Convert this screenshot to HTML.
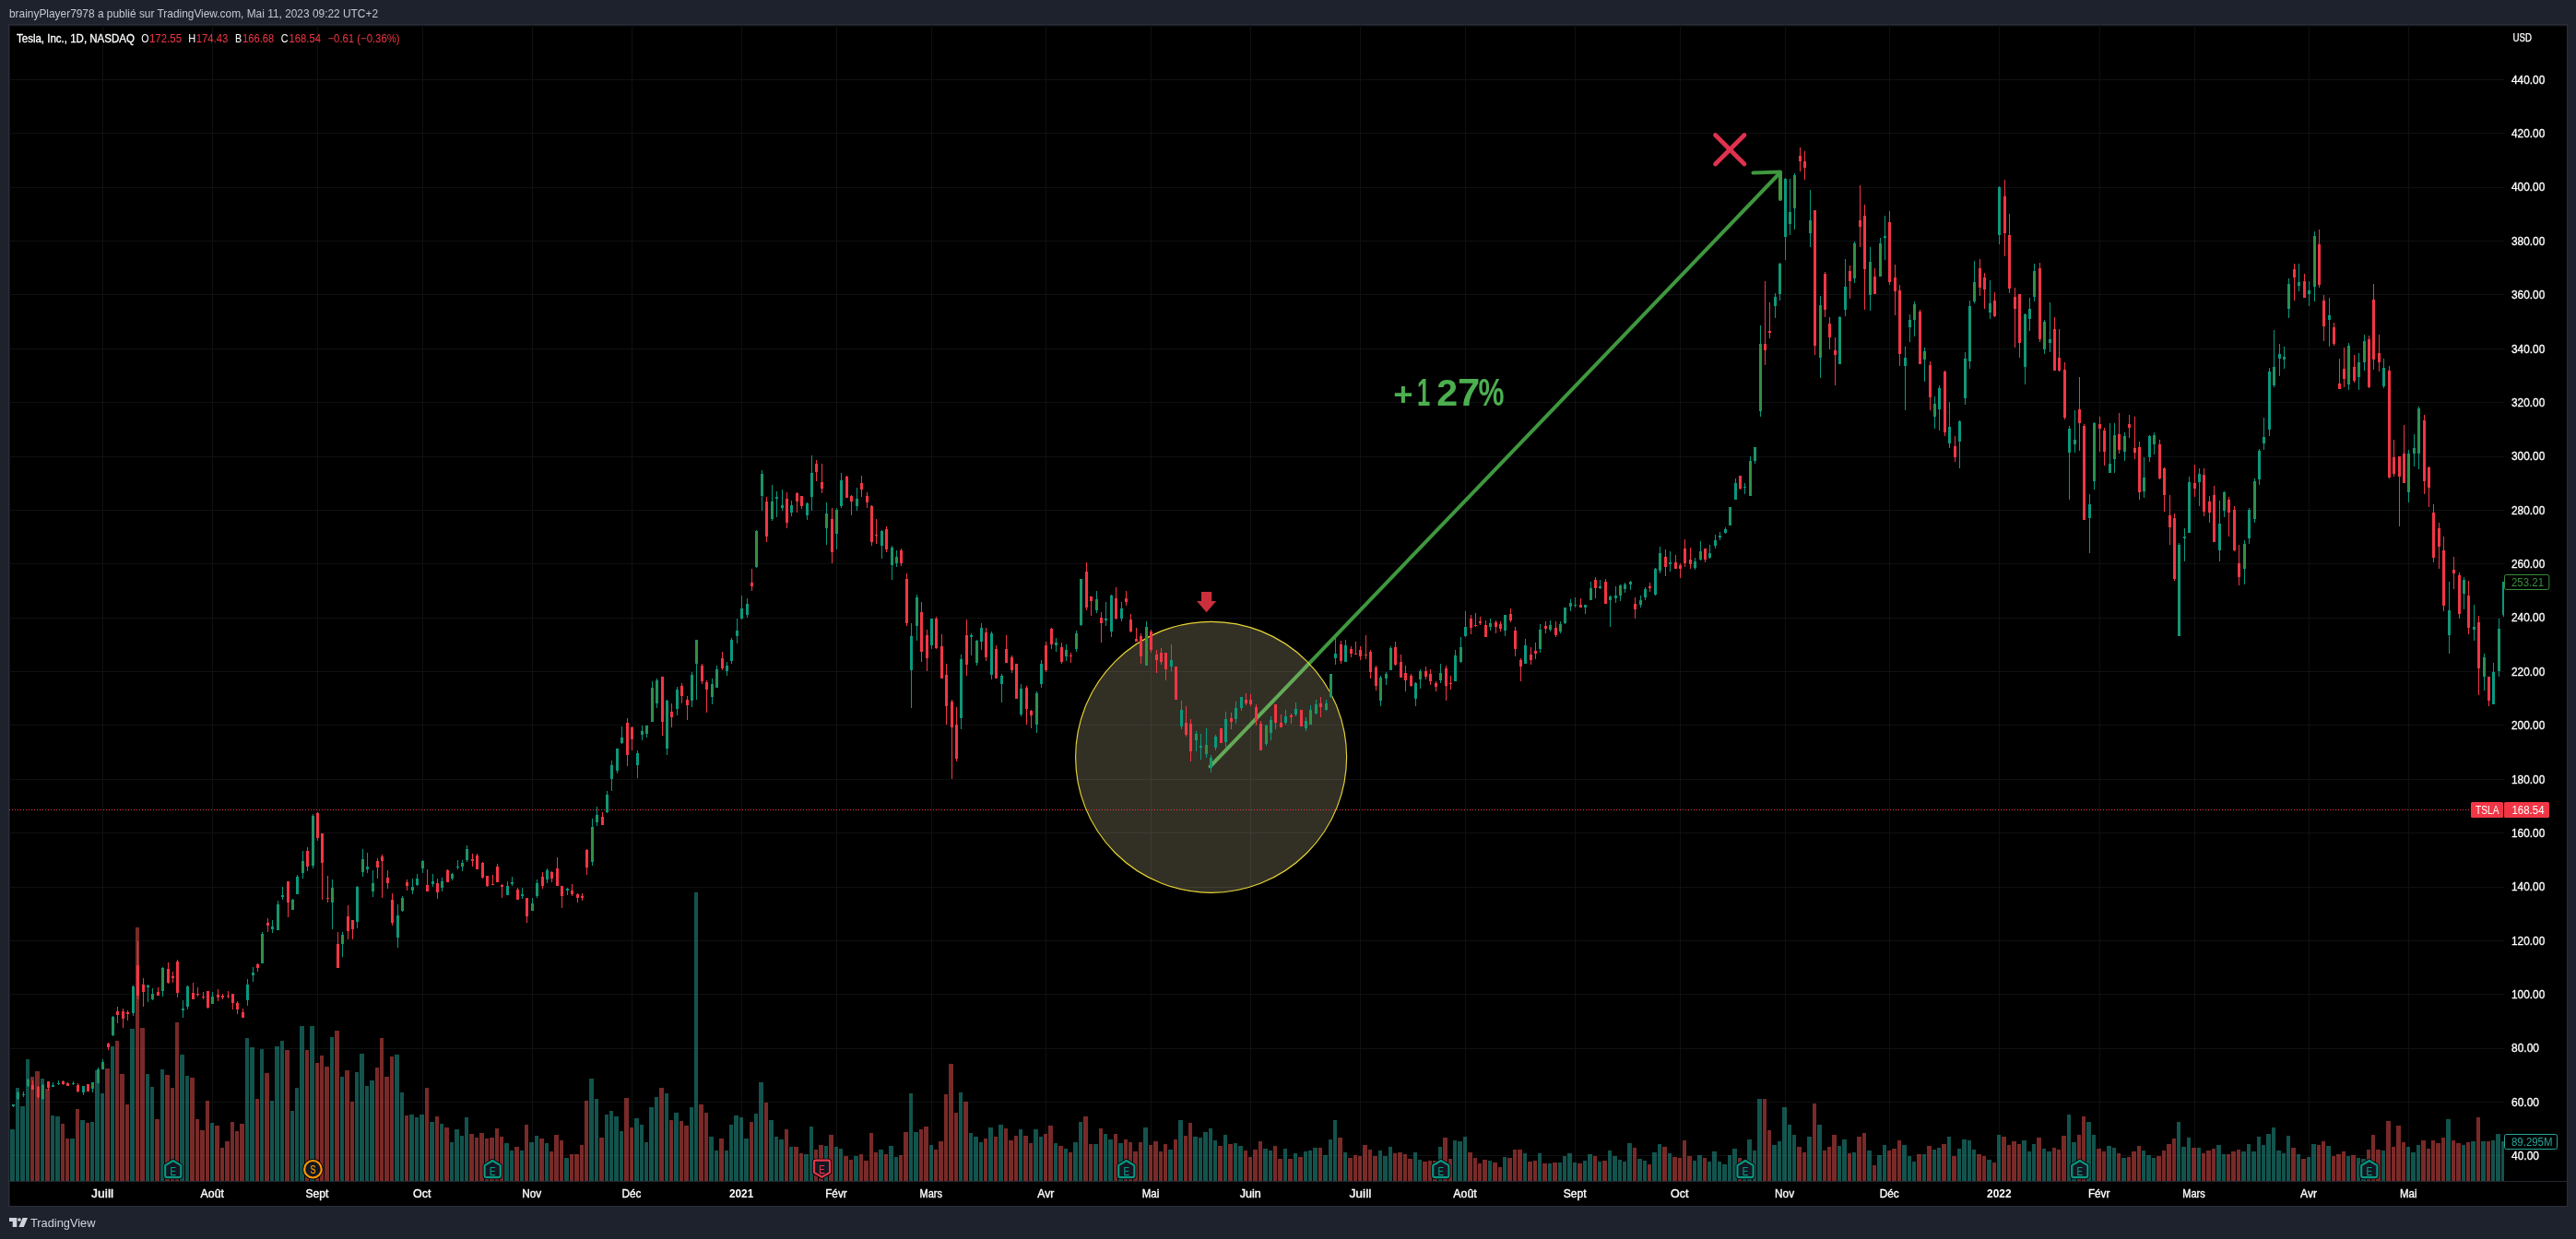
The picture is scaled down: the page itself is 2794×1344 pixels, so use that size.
<!DOCTYPE html>
<html><head><meta charset="utf-8"><title>TSLA</title><style>html,body{margin:0;padding:0;background:#1e222d;width:2794px;height:1344px;overflow:hidden}svg{display:block;position:absolute;left:0;top:0;will-change:transform;transform:translateZ(0)}text{font-family:"Liberation Sans",sans-serif}</style></head><body>
<svg width="2794" height="1344" viewBox="0 0 2794 1344">
<rect x="0" y="0" width="2794" height="1344" fill="#1e222d"/>
<rect x="9" y="26" width="2776" height="1283" fill="#2a2e39"/>
<rect x="10" y="27" width="2774" height="1281" fill="#000"/>
<rect x="10" y="27" width="2774" height="1" fill="#1b1d24"/>
<rect x="10" y="28" width="2774" height="1" fill="#08090b"/>
<rect x="10" y="27" width="1" height="1281" fill="#16181e"/>
<g shape-rendering="crispEdges" fill="#0f1012">
<rect x="10" y="86" width="2706" height="1"/>
<rect x="10" y="144" width="2706" height="1"/>
<rect x="10" y="203" width="2706" height="1"/>
<rect x="10" y="261" width="2706" height="1"/>
<rect x="10" y="319" width="2706" height="1"/>
<rect x="10" y="378" width="2706" height="1"/>
<rect x="10" y="436" width="2706" height="1"/>
<rect x="10" y="495" width="2706" height="1"/>
<rect x="10" y="553" width="2706" height="1"/>
<rect x="10" y="611" width="2706" height="1"/>
<rect x="10" y="670" width="2706" height="1"/>
<rect x="10" y="728" width="2706" height="1"/>
<rect x="10" y="786" width="2706" height="1"/>
<rect x="10" y="845" width="2706" height="1"/>
<rect x="10" y="903" width="2706" height="1"/>
<rect x="10" y="962" width="2706" height="1"/>
<rect x="10" y="1020" width="2706" height="1"/>
<rect x="10" y="1078" width="2706" height="1"/>
<rect x="10" y="1137" width="2706" height="1"/>
<rect x="10" y="1195" width="2706" height="1"/>
<rect x="10" y="1253" width="2706" height="1"/>
<rect x="111" y="27" width="1" height="1254"/>
<rect x="230" y="27" width="1" height="1254"/>
<rect x="344" y="27" width="1" height="1254"/>
<rect x="458" y="27" width="1" height="1254"/>
<rect x="577" y="27" width="1" height="1254"/>
<rect x="685" y="27" width="1" height="1254"/>
<rect x="804" y="27" width="1" height="1254"/>
<rect x="907" y="27" width="1" height="1254"/>
<rect x="1010" y="27" width="1" height="1254"/>
<rect x="1134" y="27" width="1" height="1254"/>
<rect x="1248" y="27" width="1" height="1254"/>
<rect x="1356" y="27" width="1" height="1254"/>
<rect x="1475" y="27" width="1" height="1254"/>
<rect x="1589" y="27" width="1" height="1254"/>
<rect x="1708" y="27" width="1" height="1254"/>
<rect x="1822" y="27" width="1" height="1254"/>
<rect x="1936" y="27" width="1" height="1254"/>
<rect x="2049" y="27" width="1" height="1254"/>
<rect x="2168" y="27" width="1" height="1254"/>
<rect x="2277" y="27" width="1" height="1254"/>
<rect x="2380" y="27" width="1" height="1254"/>
<rect x="2504" y="27" width="1" height="1254"/>
<rect x="2612" y="27" width="1" height="1254"/>
</g>
<g shape-rendering="crispEdges">
<rect x="11" y="1224.8" width="5" height="56.2" fill="rgba(38,166,154,0.5)"/>
<rect x="17" y="1180.1" width="4" height="100.9" fill="rgba(38,166,154,0.5)"/>
<rect x="22" y="1199.9" width="5" height="81.1" fill="rgba(38,166,154,0.5)"/>
<rect x="28" y="1149.0" width="4" height="132.0" fill="rgba(38,166,154,0.5)"/>
<rect x="33" y="1168.1" width="4" height="112.9" fill="rgba(239,83,80,0.5)"/>
<rect x="38" y="1161.9" width="5" height="119.1" fill="rgba(239,83,80,0.5)"/>
<rect x="44" y="1170.0" width="4" height="111.0" fill="rgba(38,166,154,0.5)"/>
<rect x="49" y="1181.1" width="5" height="99.9" fill="rgba(239,83,80,0.5)"/>
<rect x="55" y="1209.9" width="4" height="71.1" fill="rgba(38,166,154,0.5)"/>
<rect x="60" y="1210.8" width="5" height="70.2" fill="rgba(38,166,154,0.5)"/>
<rect x="66" y="1218.9" width="4" height="62.1" fill="rgba(239,83,80,0.5)"/>
<rect x="71" y="1234.9" width="4" height="46.1" fill="rgba(239,83,80,0.5)"/>
<rect x="76" y="1234.9" width="5" height="46.1" fill="rgba(38,166,154,0.5)"/>
<rect x="82" y="1202.9" width="4" height="78.1" fill="rgba(239,83,80,0.5)"/>
<rect x="87" y="1215.0" width="5" height="66.0" fill="rgba(38,166,154,0.5)"/>
<rect x="93" y="1218.1" width="4" height="62.9" fill="rgba(239,83,80,0.5)"/>
<rect x="98" y="1216.9" width="4" height="64.1" fill="rgba(38,166,154,0.5)"/>
<rect x="103" y="1161.1" width="5" height="119.9" fill="rgba(38,166,154,0.5)"/>
<rect x="109" y="1186.0" width="4" height="95.0" fill="rgba(38,166,154,0.5)"/>
<rect x="114" y="1159.1" width="5" height="121.9" fill="rgba(239,83,80,0.5)"/>
<rect x="120" y="1135.0" width="4" height="146.0" fill="rgba(38,166,154,0.5)"/>
<rect x="125" y="1129.1" width="4" height="151.9" fill="rgba(239,83,80,0.5)"/>
<rect x="130" y="1165.0" width="5" height="116.0" fill="rgba(239,83,80,0.5)"/>
<rect x="136" y="1197.9" width="4" height="83.1" fill="rgba(239,83,80,0.5)"/>
<rect x="141" y="1115.9" width="5" height="165.1" fill="rgba(38,166,154,0.5)"/>
<rect x="147" y="1006.1" width="4" height="274.9" fill="rgba(239,83,80,0.5)"/>
<rect x="152" y="1115.2" width="5" height="165.8" fill="rgba(239,83,80,0.5)"/>
<rect x="158" y="1165.0" width="4" height="116.0" fill="rgba(38,166,154,0.5)"/>
<rect x="163" y="1179.0" width="4" height="102.0" fill="rgba(38,166,154,0.5)"/>
<rect x="168" y="1213.9" width="5" height="67.1" fill="rgba(239,83,80,0.5)"/>
<rect x="174" y="1159.9" width="4" height="121.1" fill="rgba(38,166,154,0.5)"/>
<rect x="179" y="1166.1" width="5" height="114.9" fill="rgba(239,83,80,0.5)"/>
<rect x="185" y="1179.8" width="4" height="101.2" fill="rgba(239,83,80,0.5)"/>
<rect x="190" y="1108.9" width="4" height="172.1" fill="rgba(239,83,80,0.5)"/>
<rect x="195" y="1144.0" width="5" height="137.0" fill="rgba(38,166,154,0.5)"/>
<rect x="201" y="1166.9" width="4" height="114.1" fill="rgba(38,166,154,0.5)"/>
<rect x="206" y="1168.9" width="5" height="112.1" fill="rgba(239,83,80,0.5)"/>
<rect x="212" y="1213.9" width="4" height="67.1" fill="rgba(239,83,80,0.5)"/>
<rect x="217" y="1225.9" width="5" height="55.1" fill="rgba(239,83,80,0.5)"/>
<rect x="223" y="1194.0" width="4" height="87.0" fill="rgba(239,83,80,0.5)"/>
<rect x="228" y="1217.8" width="4" height="63.2" fill="rgba(38,166,154,0.5)"/>
<rect x="233" y="1220.9" width="5" height="60.1" fill="rgba(239,83,80,0.5)"/>
<rect x="239" y="1244.8" width="4" height="36.2" fill="rgba(239,83,80,0.5)"/>
<rect x="244" y="1237.8" width="5" height="43.2" fill="rgba(239,83,80,0.5)"/>
<rect x="250" y="1216.9" width="4" height="64.1" fill="rgba(239,83,80,0.5)"/>
<rect x="255" y="1227.0" width="4" height="54.0" fill="rgba(239,83,80,0.5)"/>
<rect x="260" y="1218.9" width="5" height="62.1" fill="rgba(239,83,80,0.5)"/>
<rect x="266" y="1126.0" width="4" height="155.0" fill="rgba(38,166,154,0.5)"/>
<rect x="271" y="1136.0" width="5" height="145.0" fill="rgba(38,166,154,0.5)"/>
<rect x="277" y="1192.0" width="4" height="89.0" fill="rgba(239,83,80,0.5)"/>
<rect x="282" y="1137.8" width="4" height="143.2" fill="rgba(38,166,154,0.5)"/>
<rect x="287" y="1164.1" width="5" height="116.9" fill="rgba(239,83,80,0.5)"/>
<rect x="293" y="1194.0" width="4" height="87.0" fill="rgba(38,166,154,0.5)"/>
<rect x="298" y="1135.0" width="5" height="146.0" fill="rgba(38,166,154,0.5)"/>
<rect x="304" y="1129.1" width="4" height="151.9" fill="rgba(38,166,154,0.5)"/>
<rect x="309" y="1138.9" width="5" height="142.1" fill="rgba(239,83,80,0.5)"/>
<rect x="315" y="1204.9" width="4" height="76.1" fill="rgba(38,166,154,0.5)"/>
<rect x="320" y="1180.1" width="4" height="100.9" fill="rgba(38,166,154,0.5)"/>
<rect x="325" y="1113.0" width="5" height="168.0" fill="rgba(38,166,154,0.5)"/>
<rect x="331" y="1138.9" width="4" height="142.1" fill="rgba(239,83,80,0.5)"/>
<rect x="336" y="1113.0" width="5" height="168.0" fill="rgba(38,166,154,0.5)"/>
<rect x="342" y="1152.9" width="4" height="128.1" fill="rgba(239,83,80,0.5)"/>
<rect x="347" y="1144.8" width="4" height="136.2" fill="rgba(239,83,80,0.5)"/>
<rect x="352" y="1157.1" width="5" height="123.9" fill="rgba(239,83,80,0.5)"/>
<rect x="358" y="1124.9" width="4" height="156.1" fill="rgba(38,166,154,0.5)"/>
<rect x="363" y="1118.0" width="5" height="163.0" fill="rgba(239,83,80,0.5)"/>
<rect x="369" y="1168.1" width="4" height="112.9" fill="rgba(38,166,154,0.5)"/>
<rect x="374" y="1161.1" width="5" height="119.9" fill="rgba(239,83,80,0.5)"/>
<rect x="380" y="1195.0" width="4" height="86.0" fill="rgba(239,83,80,0.5)"/>
<rect x="385" y="1163.0" width="4" height="118.0" fill="rgba(38,166,154,0.5)"/>
<rect x="390" y="1143.0" width="5" height="138.0" fill="rgba(38,166,154,0.5)"/>
<rect x="396" y="1178.0" width="4" height="103.0" fill="rgba(38,166,154,0.5)"/>
<rect x="401" y="1172.0" width="5" height="109.0" fill="rgba(38,166,154,0.5)"/>
<rect x="407" y="1158.0" width="4" height="123.0" fill="rgba(239,83,80,0.5)"/>
<rect x="412" y="1126.0" width="4" height="155.0" fill="rgba(239,83,80,0.5)"/>
<rect x="417" y="1168.1" width="5" height="112.9" fill="rgba(239,83,80,0.5)"/>
<rect x="423" y="1145.9" width="4" height="135.1" fill="rgba(239,83,80,0.5)"/>
<rect x="428" y="1144.0" width="5" height="137.0" fill="rgba(38,166,154,0.5)"/>
<rect x="434" y="1185.0" width="4" height="96.0" fill="rgba(38,166,154,0.5)"/>
<rect x="439" y="1209.9" width="4" height="71.1" fill="rgba(239,83,80,0.5)"/>
<rect x="444" y="1208.9" width="5" height="72.1" fill="rgba(38,166,154,0.5)"/>
<rect x="450" y="1211.9" width="4" height="69.1" fill="rgba(38,166,154,0.5)"/>
<rect x="455" y="1208.9" width="5" height="72.1" fill="rgba(38,166,154,0.5)"/>
<rect x="461" y="1180.1" width="4" height="100.9" fill="rgba(239,83,80,0.5)"/>
<rect x="466" y="1216.9" width="5" height="64.1" fill="rgba(38,166,154,0.5)"/>
<rect x="472" y="1211.0" width="4" height="70.0" fill="rgba(239,83,80,0.5)"/>
<rect x="477" y="1218.9" width="4" height="62.1" fill="rgba(38,166,154,0.5)"/>
<rect x="482" y="1222.9" width="5" height="58.1" fill="rgba(239,83,80,0.5)"/>
<rect x="488" y="1239.1" width="4" height="41.9" fill="rgba(38,166,154,0.5)"/>
<rect x="493" y="1224.9" width="5" height="56.1" fill="rgba(38,166,154,0.5)"/>
<rect x="499" y="1231.8" width="4" height="49.2" fill="rgba(38,166,154,0.5)"/>
<rect x="504" y="1211.9" width="4" height="69.1" fill="rgba(38,166,154,0.5)"/>
<rect x="509" y="1229.9" width="5" height="51.1" fill="rgba(239,83,80,0.5)"/>
<rect x="515" y="1233.9" width="4" height="47.1" fill="rgba(239,83,80,0.5)"/>
<rect x="520" y="1229.0" width="5" height="52.0" fill="rgba(239,83,80,0.5)"/>
<rect x="526" y="1234.9" width="4" height="46.1" fill="rgba(239,83,80,0.5)"/>
<rect x="531" y="1233.9" width="5" height="47.1" fill="rgba(239,83,80,0.5)"/>
<rect x="537" y="1223.9" width="4" height="57.1" fill="rgba(239,83,80,0.5)"/>
<rect x="542" y="1232.9" width="4" height="48.1" fill="rgba(239,83,80,0.5)"/>
<rect x="547" y="1239.8" width="5" height="41.2" fill="rgba(38,166,154,0.5)"/>
<rect x="553" y="1247.9" width="4" height="33.1" fill="rgba(38,166,154,0.5)"/>
<rect x="558" y="1243.9" width="5" height="37.1" fill="rgba(239,83,80,0.5)"/>
<rect x="564" y="1247.9" width="4" height="33.1" fill="rgba(38,166,154,0.5)"/>
<rect x="569" y="1220.0" width="4" height="61.0" fill="rgba(239,83,80,0.5)"/>
<rect x="574" y="1238.9" width="5" height="42.1" fill="rgba(38,166,154,0.5)"/>
<rect x="580" y="1231.8" width="4" height="49.2" fill="rgba(38,166,154,0.5)"/>
<rect x="585" y="1234.9" width="5" height="46.1" fill="rgba(239,83,80,0.5)"/>
<rect x="591" y="1239.8" width="4" height="41.2" fill="rgba(38,166,154,0.5)"/>
<rect x="596" y="1248.9" width="4" height="32.1" fill="rgba(239,83,80,0.5)"/>
<rect x="601" y="1230.8" width="5" height="50.2" fill="rgba(239,83,80,0.5)"/>
<rect x="607" y="1236.9" width="4" height="44.1" fill="rgba(239,83,80,0.5)"/>
<rect x="612" y="1255.8" width="5" height="25.2" fill="rgba(38,166,154,0.5)"/>
<rect x="618" y="1252.0" width="4" height="29.0" fill="rgba(239,83,80,0.5)"/>
<rect x="623" y="1252.0" width="5" height="29.0" fill="rgba(239,83,80,0.5)"/>
<rect x="629" y="1241.9" width="4" height="39.1" fill="rgba(239,83,80,0.5)"/>
<rect x="634" y="1194.0" width="4" height="87.0" fill="rgba(239,83,80,0.5)"/>
<rect x="639" y="1170.0" width="5" height="111.0" fill="rgba(38,166,154,0.5)"/>
<rect x="645" y="1192.0" width="4" height="89.0" fill="rgba(38,166,154,0.5)"/>
<rect x="650" y="1233.9" width="5" height="47.1" fill="rgba(239,83,80,0.5)"/>
<rect x="656" y="1208.9" width="4" height="72.1" fill="rgba(38,166,154,0.5)"/>
<rect x="661" y="1204.9" width="4" height="76.1" fill="rgba(38,166,154,0.5)"/>
<rect x="666" y="1211.0" width="5" height="70.0" fill="rgba(38,166,154,0.5)"/>
<rect x="672" y="1227.0" width="4" height="54.0" fill="rgba(38,166,154,0.5)"/>
<rect x="677" y="1190.9" width="5" height="90.1" fill="rgba(239,83,80,0.5)"/>
<rect x="683" y="1222.9" width="4" height="58.1" fill="rgba(239,83,80,0.5)"/>
<rect x="688" y="1213.0" width="5" height="68.0" fill="rgba(38,166,154,0.5)"/>
<rect x="694" y="1220.0" width="4" height="61.0" fill="rgba(38,166,154,0.5)"/>
<rect x="699" y="1238.9" width="4" height="42.1" fill="rgba(38,166,154,0.5)"/>
<rect x="704" y="1201.0" width="5" height="80.0" fill="rgba(38,166,154,0.5)"/>
<rect x="710" y="1190.0" width="4" height="91.0" fill="rgba(38,166,154,0.5)"/>
<rect x="715" y="1180.1" width="5" height="100.9" fill="rgba(239,83,80,0.5)"/>
<rect x="721" y="1186.0" width="4" height="95.0" fill="rgba(38,166,154,0.5)"/>
<rect x="726" y="1215.0" width="4" height="66.0" fill="rgba(239,83,80,0.5)"/>
<rect x="731" y="1206.9" width="5" height="74.1" fill="rgba(38,166,154,0.5)"/>
<rect x="737" y="1215.9" width="4" height="65.1" fill="rgba(239,83,80,0.5)"/>
<rect x="742" y="1220.9" width="5" height="60.1" fill="rgba(239,83,80,0.5)"/>
<rect x="748" y="1201.0" width="4" height="80.0" fill="rgba(38,166,154,0.5)"/>
<rect x="753" y="968.1" width="4" height="312.9" fill="rgba(38,166,154,0.5)"/>
<rect x="758" y="1197.9" width="5" height="83.1" fill="rgba(239,83,80,0.5)"/>
<rect x="764" y="1206.9" width="4" height="74.1" fill="rgba(239,83,80,0.5)"/>
<rect x="769" y="1232.9" width="5" height="48.1" fill="rgba(38,166,154,0.5)"/>
<rect x="775" y="1247.9" width="4" height="33.1" fill="rgba(38,166,154,0.5)"/>
<rect x="780" y="1234.9" width="5" height="46.1" fill="rgba(239,83,80,0.5)"/>
<rect x="786" y="1247.9" width="4" height="33.1" fill="rgba(38,166,154,0.5)"/>
<rect x="791" y="1220.0" width="4" height="61.0" fill="rgba(38,166,154,0.5)"/>
<rect x="796" y="1209.9" width="5" height="71.1" fill="rgba(38,166,154,0.5)"/>
<rect x="802" y="1211.9" width="4" height="69.1" fill="rgba(38,166,154,0.5)"/>
<rect x="807" y="1234.9" width="5" height="46.1" fill="rgba(38,166,154,0.5)"/>
<rect x="813" y="1216.9" width="4" height="64.1" fill="rgba(239,83,80,0.5)"/>
<rect x="818" y="1208.0" width="4" height="73.0" fill="rgba(38,166,154,0.5)"/>
<rect x="823" y="1174.0" width="5" height="107.0" fill="rgba(38,166,154,0.5)"/>
<rect x="829" y="1196.1" width="4" height="84.9" fill="rgba(239,83,80,0.5)"/>
<rect x="834" y="1215.0" width="5" height="66.0" fill="rgba(38,166,154,0.5)"/>
<rect x="840" y="1232.9" width="4" height="48.1" fill="rgba(38,166,154,0.5)"/>
<rect x="845" y="1236.0" width="5" height="45.0" fill="rgba(38,166,154,0.5)"/>
<rect x="851" y="1224.9" width="4" height="56.1" fill="rgba(239,83,80,0.5)"/>
<rect x="856" y="1243.9" width="4" height="37.1" fill="rgba(38,166,154,0.5)"/>
<rect x="861" y="1243.9" width="5" height="37.1" fill="rgba(239,83,80,0.5)"/>
<rect x="867" y="1250.9" width="4" height="30.1" fill="rgba(239,83,80,0.5)"/>
<rect x="872" y="1252.0" width="5" height="29.0" fill="rgba(38,166,154,0.5)"/>
<rect x="878" y="1222.0" width="4" height="59.0" fill="rgba(38,166,154,0.5)"/>
<rect x="883" y="1246.8" width="4" height="34.2" fill="rgba(239,83,80,0.5)"/>
<rect x="888" y="1241.9" width="5" height="39.1" fill="rgba(239,83,80,0.5)"/>
<rect x="894" y="1243.0" width="4" height="38.0" fill="rgba(38,166,154,0.5)"/>
<rect x="899" y="1230.8" width="5" height="50.2" fill="rgba(239,83,80,0.5)"/>
<rect x="905" y="1243.9" width="4" height="37.1" fill="rgba(38,166,154,0.5)"/>
<rect x="910" y="1245.9" width="4" height="35.1" fill="rgba(38,166,154,0.5)"/>
<rect x="915" y="1253.8" width="5" height="27.2" fill="rgba(239,83,80,0.5)"/>
<rect x="921" y="1257.9" width="4" height="23.1" fill="rgba(239,83,80,0.5)"/>
<rect x="926" y="1253.8" width="5" height="27.2" fill="rgba(38,166,154,0.5)"/>
<rect x="932" y="1252.0" width="4" height="29.0" fill="rgba(239,83,80,0.5)"/>
<rect x="937" y="1258.9" width="5" height="22.1" fill="rgba(239,83,80,0.5)"/>
<rect x="943" y="1229.0" width="4" height="52.0" fill="rgba(239,83,80,0.5)"/>
<rect x="948" y="1249.9" width="4" height="31.1" fill="rgba(239,83,80,0.5)"/>
<rect x="953" y="1246.8" width="5" height="34.2" fill="rgba(38,166,154,0.5)"/>
<rect x="959" y="1252.0" width="4" height="29.0" fill="rgba(239,83,80,0.5)"/>
<rect x="964" y="1243.0" width="5" height="38.0" fill="rgba(38,166,154,0.5)"/>
<rect x="970" y="1254.9" width="4" height="26.1" fill="rgba(38,166,154,0.5)"/>
<rect x="975" y="1252.9" width="4" height="28.1" fill="rgba(239,83,80,0.5)"/>
<rect x="980" y="1227.9" width="5" height="53.1" fill="rgba(239,83,80,0.5)"/>
<rect x="986" y="1186.0" width="4" height="95.0" fill="rgba(38,166,154,0.5)"/>
<rect x="991" y="1227.9" width="5" height="53.1" fill="rgba(38,166,154,0.5)"/>
<rect x="997" y="1224.9" width="4" height="56.1" fill="rgba(239,83,80,0.5)"/>
<rect x="1002" y="1222.0" width="5" height="59.0" fill="rgba(239,83,80,0.5)"/>
<rect x="1008" y="1241.9" width="4" height="39.1" fill="rgba(38,166,154,0.5)"/>
<rect x="1013" y="1246.8" width="4" height="34.2" fill="rgba(239,83,80,0.5)"/>
<rect x="1018" y="1237.8" width="5" height="43.2" fill="rgba(239,83,80,0.5)"/>
<rect x="1024" y="1187.0" width="4" height="94.0" fill="rgba(239,83,80,0.5)"/>
<rect x="1029" y="1154.0" width="5" height="127.0" fill="rgba(239,83,80,0.5)"/>
<rect x="1035" y="1206.9" width="4" height="74.1" fill="rgba(239,83,80,0.5)"/>
<rect x="1040" y="1185.0" width="4" height="96.0" fill="rgba(38,166,154,0.5)"/>
<rect x="1045" y="1195.0" width="5" height="86.0" fill="rgba(239,83,80,0.5)"/>
<rect x="1051" y="1229.0" width="4" height="52.0" fill="rgba(38,166,154,0.5)"/>
<rect x="1056" y="1232.9" width="5" height="48.1" fill="rgba(38,166,154,0.5)"/>
<rect x="1062" y="1238.9" width="4" height="42.1" fill="rgba(38,166,154,0.5)"/>
<rect x="1067" y="1234.9" width="4" height="46.1" fill="rgba(239,83,80,0.5)"/>
<rect x="1072" y="1222.9" width="5" height="58.1" fill="rgba(38,166,154,0.5)"/>
<rect x="1078" y="1232.9" width="4" height="48.1" fill="rgba(239,83,80,0.5)"/>
<rect x="1083" y="1220.0" width="5" height="61.0" fill="rgba(38,166,154,0.5)"/>
<rect x="1089" y="1223.9" width="4" height="57.1" fill="rgba(239,83,80,0.5)"/>
<rect x="1094" y="1236.9" width="5" height="44.1" fill="rgba(239,83,80,0.5)"/>
<rect x="1100" y="1231.9" width="4" height="49.1" fill="rgba(239,83,80,0.5)"/>
<rect x="1105" y="1224.9" width="4" height="56.1" fill="rgba(38,166,154,0.5)"/>
<rect x="1110" y="1231.9" width="5" height="49.1" fill="rgba(239,83,80,0.5)"/>
<rect x="1116" y="1239.8" width="4" height="41.2" fill="rgba(239,83,80,0.5)"/>
<rect x="1121" y="1224.9" width="5" height="56.1" fill="rgba(38,166,154,0.5)"/>
<rect x="1127" y="1232.9" width="4" height="48.1" fill="rgba(38,166,154,0.5)"/>
<rect x="1132" y="1229.9" width="4" height="51.1" fill="rgba(239,83,80,0.5)"/>
<rect x="1137" y="1220.9" width="5" height="60.1" fill="rgba(239,83,80,0.5)"/>
<rect x="1143" y="1239.8" width="4" height="41.2" fill="rgba(38,166,154,0.5)"/>
<rect x="1148" y="1243.0" width="5" height="38.0" fill="rgba(239,83,80,0.5)"/>
<rect x="1154" y="1245.9" width="4" height="35.1" fill="rgba(38,166,154,0.5)"/>
<rect x="1159" y="1249.9" width="4" height="31.1" fill="rgba(239,83,80,0.5)"/>
<rect x="1164" y="1238.9" width="5" height="42.1" fill="rgba(38,166,154,0.5)"/>
<rect x="1170" y="1216.9" width="4" height="64.1" fill="rgba(38,166,154,0.5)"/>
<rect x="1175" y="1211.0" width="5" height="70.0" fill="rgba(239,83,80,0.5)"/>
<rect x="1181" y="1240.9" width="4" height="40.1" fill="rgba(239,83,80,0.5)"/>
<rect x="1186" y="1240.9" width="5" height="40.1" fill="rgba(38,166,154,0.5)"/>
<rect x="1192" y="1223.9" width="4" height="57.1" fill="rgba(239,83,80,0.5)"/>
<rect x="1197" y="1229.9" width="4" height="51.1" fill="rgba(38,166,154,0.5)"/>
<rect x="1202" y="1236.0" width="5" height="45.0" fill="rgba(38,166,154,0.5)"/>
<rect x="1208" y="1229.9" width="4" height="51.1" fill="rgba(239,83,80,0.5)"/>
<rect x="1213" y="1239.8" width="5" height="41.2" fill="rgba(38,166,154,0.5)"/>
<rect x="1219" y="1236.0" width="4" height="45.0" fill="rgba(239,83,80,0.5)"/>
<rect x="1224" y="1238.9" width="4" height="42.1" fill="rgba(239,83,80,0.5)"/>
<rect x="1229" y="1248.9" width="5" height="32.1" fill="rgba(239,83,80,0.5)"/>
<rect x="1235" y="1238.9" width="4" height="42.1" fill="rgba(239,83,80,0.5)"/>
<rect x="1240" y="1222.9" width="5" height="58.1" fill="rgba(38,166,154,0.5)"/>
<rect x="1246" y="1241.9" width="4" height="39.1" fill="rgba(239,83,80,0.5)"/>
<rect x="1251" y="1237.8" width="5" height="43.2" fill="rgba(239,83,80,0.5)"/>
<rect x="1257" y="1248.9" width="4" height="32.1" fill="rgba(239,83,80,0.5)"/>
<rect x="1262" y="1240.9" width="4" height="40.1" fill="rgba(239,83,80,0.5)"/>
<rect x="1267" y="1246.8" width="5" height="34.2" fill="rgba(38,166,154,0.5)"/>
<rect x="1273" y="1236.0" width="4" height="45.0" fill="rgba(239,83,80,0.5)"/>
<rect x="1278" y="1215.0" width="5" height="66.0" fill="rgba(38,166,154,0.5)"/>
<rect x="1284" y="1231.9" width="4" height="49.1" fill="rgba(239,83,80,0.5)"/>
<rect x="1289" y="1218.0" width="4" height="63.0" fill="rgba(239,83,80,0.5)"/>
<rect x="1294" y="1232.9" width="5" height="48.1" fill="rgba(38,166,154,0.5)"/>
<rect x="1300" y="1233.9" width="4" height="47.1" fill="rgba(38,166,154,0.5)"/>
<rect x="1305" y="1227.9" width="5" height="53.1" fill="rgba(38,166,154,0.5)"/>
<rect x="1311" y="1223.9" width="4" height="57.1" fill="rgba(38,166,154,0.5)"/>
<rect x="1316" y="1236.9" width="4" height="44.1" fill="rgba(38,166,154,0.5)"/>
<rect x="1321" y="1243.0" width="5" height="38.0" fill="rgba(239,83,80,0.5)"/>
<rect x="1327" y="1230.8" width="4" height="50.2" fill="rgba(38,166,154,0.5)"/>
<rect x="1332" y="1240.9" width="5" height="40.1" fill="rgba(239,83,80,0.5)"/>
<rect x="1338" y="1239.8" width="4" height="41.2" fill="rgba(38,166,154,0.5)"/>
<rect x="1343" y="1243.0" width="5" height="38.0" fill="rgba(38,166,154,0.5)"/>
<rect x="1349" y="1247.9" width="4" height="33.1" fill="rgba(239,83,80,0.5)"/>
<rect x="1354" y="1254.9" width="4" height="26.1" fill="rgba(239,83,80,0.5)"/>
<rect x="1359" y="1246.8" width="5" height="34.2" fill="rgba(239,83,80,0.5)"/>
<rect x="1365" y="1237.8" width="4" height="43.2" fill="rgba(239,83,80,0.5)"/>
<rect x="1370" y="1245.9" width="5" height="35.1" fill="rgba(38,166,154,0.5)"/>
<rect x="1376" y="1247.9" width="4" height="33.1" fill="rgba(38,166,154,0.5)"/>
<rect x="1381" y="1243.0" width="4" height="38.0" fill="rgba(239,83,80,0.5)"/>
<rect x="1386" y="1256.9" width="5" height="24.1" fill="rgba(239,83,80,0.5)"/>
<rect x="1392" y="1245.9" width="4" height="35.1" fill="rgba(38,166,154,0.5)"/>
<rect x="1397" y="1256.9" width="5" height="24.1" fill="rgba(239,83,80,0.5)"/>
<rect x="1403" y="1250.9" width="4" height="30.1" fill="rgba(38,166,154,0.5)"/>
<rect x="1408" y="1254.9" width="5" height="26.1" fill="rgba(239,83,80,0.5)"/>
<rect x="1414" y="1248.9" width="4" height="32.1" fill="rgba(38,166,154,0.5)"/>
<rect x="1419" y="1247.9" width="4" height="33.1" fill="rgba(38,166,154,0.5)"/>
<rect x="1424" y="1244.8" width="5" height="36.2" fill="rgba(38,166,154,0.5)"/>
<rect x="1430" y="1244.8" width="4" height="36.2" fill="rgba(239,83,80,0.5)"/>
<rect x="1435" y="1252.9" width="5" height="28.1" fill="rgba(38,166,154,0.5)"/>
<rect x="1441" y="1236.0" width="4" height="45.0" fill="rgba(38,166,154,0.5)"/>
<rect x="1446" y="1215.0" width="4" height="66.0" fill="rgba(38,166,154,0.5)"/>
<rect x="1451" y="1233.9" width="5" height="47.1" fill="rgba(239,83,80,0.5)"/>
<rect x="1457" y="1249.9" width="4" height="31.1" fill="rgba(38,166,154,0.5)"/>
<rect x="1462" y="1255.8" width="5" height="25.2" fill="rgba(239,83,80,0.5)"/>
<rect x="1468" y="1252.9" width="4" height="28.1" fill="rgba(239,83,80,0.5)"/>
<rect x="1473" y="1253.8" width="4" height="27.2" fill="rgba(239,83,80,0.5)"/>
<rect x="1478" y="1241.9" width="5" height="39.1" fill="rgba(239,83,80,0.5)"/>
<rect x="1484" y="1246.8" width="4" height="34.2" fill="rgba(239,83,80,0.5)"/>
<rect x="1489" y="1253.8" width="5" height="27.2" fill="rgba(239,83,80,0.5)"/>
<rect x="1495" y="1247.9" width="4" height="33.1" fill="rgba(38,166,154,0.5)"/>
<rect x="1500" y="1253.8" width="5" height="27.2" fill="rgba(38,166,154,0.5)"/>
<rect x="1506" y="1243.9" width="4" height="37.1" fill="rgba(38,166,154,0.5)"/>
<rect x="1511" y="1250.9" width="4" height="30.1" fill="rgba(239,83,80,0.5)"/>
<rect x="1516" y="1249.9" width="5" height="31.1" fill="rgba(239,83,80,0.5)"/>
<rect x="1522" y="1252.0" width="4" height="29.0" fill="rgba(239,83,80,0.5)"/>
<rect x="1527" y="1256.9" width="5" height="24.1" fill="rgba(239,83,80,0.5)"/>
<rect x="1533" y="1249.9" width="4" height="31.1" fill="rgba(38,166,154,0.5)"/>
<rect x="1538" y="1257.9" width="4" height="23.1" fill="rgba(38,166,154,0.5)"/>
<rect x="1543" y="1259.9" width="5" height="21.1" fill="rgba(239,83,80,0.5)"/>
<rect x="1549" y="1258.9" width="4" height="22.1" fill="rgba(239,83,80,0.5)"/>
<rect x="1554" y="1258.9" width="5" height="22.1" fill="rgba(239,83,80,0.5)"/>
<rect x="1560" y="1243.9" width="4" height="37.1" fill="rgba(38,166,154,0.5)"/>
<rect x="1565" y="1233.9" width="5" height="47.1" fill="rgba(239,83,80,0.5)"/>
<rect x="1571" y="1256.9" width="4" height="24.1" fill="rgba(239,83,80,0.5)"/>
<rect x="1576" y="1236.9" width="4" height="44.1" fill="rgba(38,166,154,0.5)"/>
<rect x="1581" y="1237.8" width="5" height="43.2" fill="rgba(38,166,154,0.5)"/>
<rect x="1587" y="1232.9" width="4" height="48.1" fill="rgba(38,166,154,0.5)"/>
<rect x="1592" y="1249.9" width="5" height="31.1" fill="rgba(239,83,80,0.5)"/>
<rect x="1598" y="1255.8" width="4" height="25.2" fill="rgba(239,83,80,0.5)"/>
<rect x="1603" y="1261.9" width="4" height="19.1" fill="rgba(239,83,80,0.5)"/>
<rect x="1608" y="1257.9" width="5" height="23.1" fill="rgba(239,83,80,0.5)"/>
<rect x="1614" y="1258.9" width="4" height="22.1" fill="rgba(38,166,154,0.5)"/>
<rect x="1619" y="1260.8" width="5" height="20.2" fill="rgba(239,83,80,0.5)"/>
<rect x="1625" y="1265.9" width="4" height="15.1" fill="rgba(239,83,80,0.5)"/>
<rect x="1630" y="1254.9" width="4" height="26.1" fill="rgba(38,166,154,0.5)"/>
<rect x="1635" y="1255.8" width="5" height="25.2" fill="rgba(239,83,80,0.5)"/>
<rect x="1641" y="1246.8" width="4" height="34.2" fill="rgba(239,83,80,0.5)"/>
<rect x="1646" y="1246.8" width="5" height="34.2" fill="rgba(239,83,80,0.5)"/>
<rect x="1652" y="1250.9" width="4" height="30.1" fill="rgba(38,166,154,0.5)"/>
<rect x="1657" y="1259.9" width="5" height="21.1" fill="rgba(239,83,80,0.5)"/>
<rect x="1663" y="1258.9" width="4" height="22.1" fill="rgba(239,83,80,0.5)"/>
<rect x="1668" y="1250.9" width="4" height="30.1" fill="rgba(38,166,154,0.5)"/>
<rect x="1673" y="1261.9" width="5" height="19.1" fill="rgba(239,83,80,0.5)"/>
<rect x="1679" y="1261.9" width="4" height="19.1" fill="rgba(38,166,154,0.5)"/>
<rect x="1684" y="1260.8" width="5" height="20.2" fill="rgba(239,83,80,0.5)"/>
<rect x="1690" y="1260.8" width="4" height="20.2" fill="rgba(38,166,154,0.5)"/>
<rect x="1695" y="1253.8" width="4" height="27.2" fill="rgba(38,166,154,0.5)"/>
<rect x="1700" y="1250.9" width="5" height="30.1" fill="rgba(38,166,154,0.5)"/>
<rect x="1706" y="1260.8" width="4" height="20.2" fill="rgba(38,166,154,0.5)"/>
<rect x="1711" y="1261.9" width="5" height="19.1" fill="rgba(239,83,80,0.5)"/>
<rect x="1717" y="1258.9" width="4" height="22.1" fill="rgba(38,166,154,0.5)"/>
<rect x="1722" y="1252.0" width="5" height="29.0" fill="rgba(38,166,154,0.5)"/>
<rect x="1728" y="1253.8" width="4" height="27.2" fill="rgba(239,83,80,0.5)"/>
<rect x="1733" y="1259.9" width="4" height="21.1" fill="rgba(38,166,154,0.5)"/>
<rect x="1738" y="1258.9" width="5" height="22.1" fill="rgba(239,83,80,0.5)"/>
<rect x="1744" y="1247.9" width="4" height="33.1" fill="rgba(38,166,154,0.5)"/>
<rect x="1749" y="1253.8" width="5" height="27.2" fill="rgba(38,166,154,0.5)"/>
<rect x="1755" y="1257.9" width="4" height="23.1" fill="rgba(38,166,154,0.5)"/>
<rect x="1760" y="1259.9" width="4" height="21.1" fill="rgba(38,166,154,0.5)"/>
<rect x="1765" y="1239.8" width="5" height="41.2" fill="rgba(38,166,154,0.5)"/>
<rect x="1771" y="1244.8" width="4" height="36.2" fill="rgba(239,83,80,0.5)"/>
<rect x="1776" y="1256.9" width="5" height="24.1" fill="rgba(38,166,154,0.5)"/>
<rect x="1782" y="1258.9" width="4" height="22.1" fill="rgba(38,166,154,0.5)"/>
<rect x="1787" y="1262.8" width="4" height="18.2" fill="rgba(239,83,80,0.5)"/>
<rect x="1792" y="1249.9" width="5" height="31.1" fill="rgba(38,166,154,0.5)"/>
<rect x="1798" y="1240.9" width="4" height="40.1" fill="rgba(38,166,154,0.5)"/>
<rect x="1803" y="1243.9" width="5" height="37.1" fill="rgba(239,83,80,0.5)"/>
<rect x="1809" y="1250.9" width="4" height="30.1" fill="rgba(38,166,154,0.5)"/>
<rect x="1814" y="1254.9" width="5" height="26.1" fill="rgba(239,83,80,0.5)"/>
<rect x="1820" y="1255.8" width="4" height="25.2" fill="rgba(239,83,80,0.5)"/>
<rect x="1825" y="1236.9" width="4" height="44.1" fill="rgba(239,83,80,0.5)"/>
<rect x="1830" y="1253.8" width="5" height="27.2" fill="rgba(239,83,80,0.5)"/>
<rect x="1836" y="1258.9" width="4" height="22.1" fill="rgba(38,166,154,0.5)"/>
<rect x="1841" y="1252.9" width="5" height="28.1" fill="rgba(38,166,154,0.5)"/>
<rect x="1847" y="1255.8" width="4" height="25.2" fill="rgba(239,83,80,0.5)"/>
<rect x="1852" y="1259.9" width="4" height="21.1" fill="rgba(38,166,154,0.5)"/>
<rect x="1857" y="1248.9" width="5" height="32.1" fill="rgba(38,166,154,0.5)"/>
<rect x="1863" y="1259.9" width="4" height="21.1" fill="rgba(38,166,154,0.5)"/>
<rect x="1868" y="1262.8" width="5" height="18.2" fill="rgba(38,166,154,0.5)"/>
<rect x="1874" y="1252.9" width="4" height="28.1" fill="rgba(38,166,154,0.5)"/>
<rect x="1879" y="1245.9" width="5" height="35.1" fill="rgba(38,166,154,0.5)"/>
<rect x="1885" y="1255.8" width="4" height="25.2" fill="rgba(239,83,80,0.5)"/>
<rect x="1890" y="1257.9" width="4" height="23.1" fill="rgba(38,166,154,0.5)"/>
<rect x="1895" y="1236.0" width="5" height="45.0" fill="rgba(38,166,154,0.5)"/>
<rect x="1901" y="1247.9" width="4" height="33.1" fill="rgba(38,166,154,0.5)"/>
<rect x="1906" y="1192.0" width="5" height="89.0" fill="rgba(38,166,154,0.5)"/>
<rect x="1912" y="1192.0" width="4" height="89.0" fill="rgba(239,83,80,0.5)"/>
<rect x="1917" y="1225.9" width="4" height="55.1" fill="rgba(239,83,80,0.5)"/>
<rect x="1922" y="1241.9" width="5" height="39.1" fill="rgba(38,166,154,0.5)"/>
<rect x="1928" y="1237.8" width="4" height="43.2" fill="rgba(38,166,154,0.5)"/>
<rect x="1933" y="1200.9" width="5" height="80.1" fill="rgba(38,166,154,0.5)"/>
<rect x="1939" y="1220.0" width="4" height="61.0" fill="rgba(38,166,154,0.5)"/>
<rect x="1944" y="1230.8" width="4" height="50.2" fill="rgba(38,166,154,0.5)"/>
<rect x="1949" y="1243.9" width="5" height="37.1" fill="rgba(239,83,80,0.5)"/>
<rect x="1955" y="1249.9" width="4" height="31.1" fill="rgba(239,83,80,0.5)"/>
<rect x="1960" y="1232.9" width="5" height="48.1" fill="rgba(38,166,154,0.5)"/>
<rect x="1966" y="1196.8" width="4" height="84.2" fill="rgba(239,83,80,0.5)"/>
<rect x="1971" y="1220.0" width="5" height="61.0" fill="rgba(38,166,154,0.5)"/>
<rect x="1977" y="1247.9" width="4" height="33.1" fill="rgba(239,83,80,0.5)"/>
<rect x="1982" y="1243.9" width="4" height="37.1" fill="rgba(239,83,80,0.5)"/>
<rect x="1987" y="1230.8" width="5" height="50.2" fill="rgba(239,83,80,0.5)"/>
<rect x="1993" y="1243.0" width="4" height="38.0" fill="rgba(38,166,154,0.5)"/>
<rect x="1998" y="1236.0" width="5" height="45.0" fill="rgba(38,166,154,0.5)"/>
<rect x="2004" y="1250.9" width="4" height="30.1" fill="rgba(239,83,80,0.5)"/>
<rect x="2009" y="1249.9" width="4" height="31.1" fill="rgba(38,166,154,0.5)"/>
<rect x="2014" y="1232.9" width="5" height="48.1" fill="rgba(239,83,80,0.5)"/>
<rect x="2020" y="1229.0" width="4" height="52.0" fill="rgba(239,83,80,0.5)"/>
<rect x="2025" y="1247.9" width="5" height="33.1" fill="rgba(38,166,154,0.5)"/>
<rect x="2031" y="1263.9" width="4" height="17.1" fill="rgba(239,83,80,0.5)"/>
<rect x="2036" y="1252.9" width="5" height="28.1" fill="rgba(38,166,154,0.5)"/>
<rect x="2042" y="1241.9" width="4" height="39.1" fill="rgba(38,166,154,0.5)"/>
<rect x="2047" y="1247.9" width="4" height="33.1" fill="rgba(239,83,80,0.5)"/>
<rect x="2052" y="1245.9" width="5" height="35.1" fill="rgba(239,83,80,0.5)"/>
<rect x="2058" y="1236.9" width="4" height="44.1" fill="rgba(239,83,80,0.5)"/>
<rect x="2063" y="1241.9" width="5" height="39.1" fill="rgba(38,166,154,0.5)"/>
<rect x="2069" y="1253.8" width="4" height="27.2" fill="rgba(38,166,154,0.5)"/>
<rect x="2074" y="1259.9" width="4" height="21.1" fill="rgba(38,166,154,0.5)"/>
<rect x="2079" y="1252.0" width="5" height="29.0" fill="rgba(239,83,80,0.5)"/>
<rect x="2085" y="1252.0" width="4" height="29.0" fill="rgba(38,166,154,0.5)"/>
<rect x="2090" y="1243.0" width="5" height="38.0" fill="rgba(239,83,80,0.5)"/>
<rect x="2096" y="1246.8" width="4" height="34.2" fill="rgba(38,166,154,0.5)"/>
<rect x="2101" y="1244.8" width="4" height="36.2" fill="rgba(38,166,154,0.5)"/>
<rect x="2106" y="1240.9" width="5" height="40.1" fill="rgba(239,83,80,0.5)"/>
<rect x="2112" y="1232.9" width="4" height="48.1" fill="rgba(38,166,154,0.5)"/>
<rect x="2117" y="1253.8" width="5" height="27.2" fill="rgba(239,83,80,0.5)"/>
<rect x="2123" y="1245.9" width="4" height="35.1" fill="rgba(38,166,154,0.5)"/>
<rect x="2128" y="1236.0" width="5" height="45.0" fill="rgba(38,166,154,0.5)"/>
<rect x="2134" y="1236.9" width="4" height="44.1" fill="rgba(38,166,154,0.5)"/>
<rect x="2139" y="1246.8" width="4" height="34.2" fill="rgba(38,166,154,0.5)"/>
<rect x="2144" y="1252.0" width="5" height="29.0" fill="rgba(239,83,80,0.5)"/>
<rect x="2150" y="1253.8" width="4" height="27.2" fill="rgba(239,83,80,0.5)"/>
<rect x="2155" y="1257.9" width="5" height="23.1" fill="rgba(38,166,154,0.5)"/>
<rect x="2161" y="1260.8" width="4" height="20.2" fill="rgba(239,83,80,0.5)"/>
<rect x="2166" y="1230.8" width="4" height="50.2" fill="rgba(38,166,154,0.5)"/>
<rect x="2171" y="1232.9" width="5" height="48.1" fill="rgba(239,83,80,0.5)"/>
<rect x="2177" y="1241.9" width="4" height="39.1" fill="rgba(239,83,80,0.5)"/>
<rect x="2182" y="1237.8" width="5" height="43.2" fill="rgba(239,83,80,0.5)"/>
<rect x="2188" y="1240.9" width="4" height="40.1" fill="rgba(239,83,80,0.5)"/>
<rect x="2193" y="1236.9" width="5" height="44.1" fill="rgba(38,166,154,0.5)"/>
<rect x="2199" y="1248.9" width="4" height="32.1" fill="rgba(38,166,154,0.5)"/>
<rect x="2204" y="1240.9" width="4" height="40.1" fill="rgba(38,166,154,0.5)"/>
<rect x="2209" y="1233.9" width="5" height="47.1" fill="rgba(239,83,80,0.5)"/>
<rect x="2215" y="1245.9" width="4" height="35.1" fill="rgba(38,166,154,0.5)"/>
<rect x="2220" y="1248.9" width="5" height="32.1" fill="rgba(38,166,154,0.5)"/>
<rect x="2226" y="1244.8" width="4" height="36.2" fill="rgba(239,83,80,0.5)"/>
<rect x="2231" y="1246.8" width="4" height="34.2" fill="rgba(239,83,80,0.5)"/>
<rect x="2236" y="1231.9" width="5" height="49.1" fill="rgba(239,83,80,0.5)"/>
<rect x="2242" y="1208.9" width="4" height="72.1" fill="rgba(38,166,154,0.5)"/>
<rect x="2247" y="1238.9" width="5" height="42.1" fill="rgba(38,166,154,0.5)"/>
<rect x="2253" y="1230.8" width="4" height="50.2" fill="rgba(239,83,80,0.5)"/>
<rect x="2258" y="1211.0" width="4" height="70.0" fill="rgba(239,83,80,0.5)"/>
<rect x="2263" y="1216.9" width="5" height="64.1" fill="rgba(38,166,154,0.5)"/>
<rect x="2269" y="1230.8" width="4" height="50.2" fill="rgba(38,166,154,0.5)"/>
<rect x="2274" y="1245.9" width="5" height="35.1" fill="rgba(239,83,80,0.5)"/>
<rect x="2280" y="1248.9" width="4" height="32.1" fill="rgba(239,83,80,0.5)"/>
<rect x="2285" y="1243.0" width="5" height="38.0" fill="rgba(38,166,154,0.5)"/>
<rect x="2291" y="1244.8" width="4" height="36.2" fill="rgba(38,166,154,0.5)"/>
<rect x="2296" y="1250.9" width="4" height="30.1" fill="rgba(239,83,80,0.5)"/>
<rect x="2301" y="1255.8" width="5" height="25.2" fill="rgba(38,166,154,0.5)"/>
<rect x="2307" y="1254.9" width="4" height="26.1" fill="rgba(239,83,80,0.5)"/>
<rect x="2312" y="1248.9" width="5" height="32.1" fill="rgba(239,83,80,0.5)"/>
<rect x="2318" y="1243.0" width="4" height="38.0" fill="rgba(239,83,80,0.5)"/>
<rect x="2323" y="1247.9" width="4" height="33.1" fill="rgba(38,166,154,0.5)"/>
<rect x="2328" y="1252.9" width="5" height="28.1" fill="rgba(38,166,154,0.5)"/>
<rect x="2334" y="1255.8" width="4" height="25.2" fill="rgba(38,166,154,0.5)"/>
<rect x="2339" y="1253.8" width="5" height="27.2" fill="rgba(239,83,80,0.5)"/>
<rect x="2345" y="1247.9" width="4" height="33.1" fill="rgba(239,83,80,0.5)"/>
<rect x="2350" y="1240.9" width="5" height="40.1" fill="rgba(239,83,80,0.5)"/>
<rect x="2356" y="1234.9" width="4" height="46.1" fill="rgba(239,83,80,0.5)"/>
<rect x="2361" y="1216.9" width="4" height="64.1" fill="rgba(38,166,154,0.5)"/>
<rect x="2366" y="1243.9" width="5" height="37.1" fill="rgba(38,166,154,0.5)"/>
<rect x="2372" y="1233.9" width="4" height="47.1" fill="rgba(38,166,154,0.5)"/>
<rect x="2377" y="1244.8" width="5" height="36.2" fill="rgba(239,83,80,0.5)"/>
<rect x="2383" y="1244.8" width="4" height="36.2" fill="rgba(38,166,154,0.5)"/>
<rect x="2388" y="1250.9" width="4" height="30.1" fill="rgba(239,83,80,0.5)"/>
<rect x="2393" y="1247.9" width="5" height="33.1" fill="rgba(239,83,80,0.5)"/>
<rect x="2399" y="1245.9" width="4" height="35.1" fill="rgba(239,83,80,0.5)"/>
<rect x="2404" y="1241.9" width="5" height="39.1" fill="rgba(38,166,154,0.5)"/>
<rect x="2410" y="1252.0" width="4" height="29.0" fill="rgba(38,166,154,0.5)"/>
<rect x="2415" y="1252.0" width="4" height="29.0" fill="rgba(239,83,80,0.5)"/>
<rect x="2420" y="1248.9" width="5" height="32.1" fill="rgba(239,83,80,0.5)"/>
<rect x="2426" y="1246.8" width="4" height="34.2" fill="rgba(239,83,80,0.5)"/>
<rect x="2431" y="1248.9" width="5" height="32.1" fill="rgba(38,166,154,0.5)"/>
<rect x="2437" y="1240.9" width="4" height="40.1" fill="rgba(38,166,154,0.5)"/>
<rect x="2442" y="1248.9" width="5" height="32.1" fill="rgba(38,166,154,0.5)"/>
<rect x="2448" y="1232.9" width="4" height="48.1" fill="rgba(38,166,154,0.5)"/>
<rect x="2453" y="1241.9" width="4" height="39.1" fill="rgba(38,166,154,0.5)"/>
<rect x="2458" y="1229.9" width="5" height="51.1" fill="rgba(38,166,154,0.5)"/>
<rect x="2464" y="1222.9" width="4" height="58.1" fill="rgba(38,166,154,0.5)"/>
<rect x="2469" y="1247.9" width="5" height="33.1" fill="rgba(38,166,154,0.5)"/>
<rect x="2475" y="1250.9" width="4" height="30.1" fill="rgba(38,166,154,0.5)"/>
<rect x="2480" y="1231.9" width="4" height="49.1" fill="rgba(38,166,154,0.5)"/>
<rect x="2485" y="1244.8" width="5" height="36.2" fill="rgba(239,83,80,0.5)"/>
<rect x="2491" y="1252.0" width="4" height="29.0" fill="rgba(38,166,154,0.5)"/>
<rect x="2496" y="1256.9" width="5" height="24.1" fill="rgba(239,83,80,0.5)"/>
<rect x="2502" y="1254.9" width="4" height="26.1" fill="rgba(38,166,154,0.5)"/>
<rect x="2507" y="1240.9" width="5" height="40.1" fill="rgba(38,166,154,0.5)"/>
<rect x="2513" y="1241.9" width="4" height="39.1" fill="rgba(239,83,80,0.5)"/>
<rect x="2518" y="1237.8" width="4" height="43.2" fill="rgba(239,83,80,0.5)"/>
<rect x="2523" y="1243.0" width="5" height="38.0" fill="rgba(38,166,154,0.5)"/>
<rect x="2529" y="1253.8" width="4" height="27.2" fill="rgba(239,83,80,0.5)"/>
<rect x="2534" y="1252.0" width="5" height="29.0" fill="rgba(239,83,80,0.5)"/>
<rect x="2540" y="1248.9" width="4" height="32.1" fill="rgba(239,83,80,0.5)"/>
<rect x="2545" y="1253.8" width="4" height="27.2" fill="rgba(38,166,154,0.5)"/>
<rect x="2550" y="1252.9" width="5" height="28.1" fill="rgba(239,83,80,0.5)"/>
<rect x="2556" y="1255.8" width="4" height="25.2" fill="rgba(38,166,154,0.5)"/>
<rect x="2561" y="1256.9" width="5" height="24.1" fill="rgba(38,166,154,0.5)"/>
<rect x="2567" y="1246.8" width="4" height="34.2" fill="rgba(239,83,80,0.5)"/>
<rect x="2572" y="1230.8" width="4" height="50.2" fill="rgba(239,83,80,0.5)"/>
<rect x="2577" y="1246.8" width="5" height="34.2" fill="rgba(239,83,80,0.5)"/>
<rect x="2583" y="1247.9" width="4" height="33.1" fill="rgba(38,166,154,0.5)"/>
<rect x="2588" y="1215.9" width="5" height="65.1" fill="rgba(239,83,80,0.5)"/>
<rect x="2594" y="1243.9" width="4" height="37.1" fill="rgba(239,83,80,0.5)"/>
<rect x="2599" y="1220.9" width="5" height="60.1" fill="rgba(239,83,80,0.5)"/>
<rect x="2605" y="1238.9" width="4" height="42.1" fill="rgba(239,83,80,0.5)"/>
<rect x="2610" y="1243.9" width="4" height="37.1" fill="rgba(38,166,154,0.5)"/>
<rect x="2615" y="1249.9" width="5" height="31.1" fill="rgba(38,166,154,0.5)"/>
<rect x="2621" y="1241.9" width="4" height="39.1" fill="rgba(38,166,154,0.5)"/>
<rect x="2626" y="1236.9" width="5" height="44.1" fill="rgba(239,83,80,0.5)"/>
<rect x="2632" y="1245.9" width="4" height="35.1" fill="rgba(239,83,80,0.5)"/>
<rect x="2637" y="1236.9" width="4" height="44.1" fill="rgba(239,83,80,0.5)"/>
<rect x="2642" y="1239.8" width="5" height="41.2" fill="rgba(239,83,80,0.5)"/>
<rect x="2648" y="1233.9" width="4" height="47.1" fill="rgba(239,83,80,0.5)"/>
<rect x="2653" y="1213.9" width="5" height="67.1" fill="rgba(38,166,154,0.5)"/>
<rect x="2659" y="1236.9" width="4" height="44.1" fill="rgba(239,83,80,0.5)"/>
<rect x="2664" y="1239.8" width="5" height="41.2" fill="rgba(239,83,80,0.5)"/>
<rect x="2670" y="1241.9" width="4" height="39.1" fill="rgba(38,166,154,0.5)"/>
<rect x="2675" y="1238.9" width="4" height="42.1" fill="rgba(239,83,80,0.5)"/>
<rect x="2680" y="1237.8" width="5" height="43.2" fill="rgba(38,166,154,0.5)"/>
<rect x="2686" y="1211.9" width="4" height="69.1" fill="rgba(239,83,80,0.5)"/>
<rect x="2691" y="1237.8" width="5" height="43.2" fill="rgba(38,166,154,0.5)"/>
<rect x="2697" y="1237.8" width="4" height="43.2" fill="rgba(239,83,80,0.5)"/>
<rect x="2702" y="1236.9" width="4" height="44.1" fill="rgba(38,166,154,0.5)"/>
<rect x="2707" y="1229.9" width="5" height="51.1" fill="rgba(38,166,154,0.5)"/>
<rect x="2713" y="1237.8" width="3" height="43.2" fill="rgba(38,166,154,0.5)"/>
</g>
<g stroke="#3f973f" stroke-width="4" fill="none" stroke-linecap="round" stroke-linejoin="round">
<path d="M1312.7 831.4 L1930.5 187.5"/>
<path d="M1901.5 187.5 L1931 186.5 L1931 216"/>
</g>
<circle cx="1313.6" cy="821.3" r="147" fill="#fff5be" fill-opacity="0.195" stroke="#e9d535" stroke-width="1.15"/>
<line x1="10" y1="878.5" x2="2679" y2="878.5" stroke="#f23645" stroke-width="1" stroke-dasharray="1 2" shape-rendering="crispEdges"/>
<defs><clipPath id="pc"><rect x="10" y="27" width="2706" height="1254"/></clipPath></defs>
<g shape-rendering="crispEdges" clip-path="url(#pc)">
<rect x="14" y="1197.9" width="1" height="3.3" fill="#089981"/>
<rect x="13" y="1197.9" width="3" height="2.2" fill="#089981"/>
<rect x="19" y="1184.0" width="1" height="9.3" fill="#089981"/>
<rect x="18" y="1184.9" width="3" height="7.4" fill="#089981"/>
<rect x="19" y="1185.9" width="1" height="5.4" fill="#388e3c"/>
<rect x="25" y="1184.0" width="1" height="6.1" fill="#089981"/>
<rect x="24" y="1186.8" width="3" height="1.1" fill="#089981"/>
<rect x="30" y="1169.7" width="1" height="9.3" fill="#089981"/>
<rect x="29" y="1171.0" width="3" height="6.9" fill="#089981"/>
<rect x="30" y="1172.0" width="1" height="4.9" fill="#388e3c"/>
<rect x="35" y="1171.9" width="1" height="10.2" fill="#f23645"/>
<rect x="34" y="1176.6" width="3" height="5.2" fill="#f23645"/>
<rect x="41" y="1177.5" width="1" height="14.5" fill="#f23645"/>
<rect x="40" y="1179.0" width="3" height="10.6" fill="#f23645"/>
<rect x="46" y="1175.6" width="1" height="17.3" fill="#089981"/>
<rect x="45" y="1177.1" width="3" height="14.9" fill="#089981"/>
<rect x="46" y="1178.1" width="1" height="12.9" fill="#388e3c"/>
<rect x="52" y="1172.8" width="1" height="10.3" fill="#f23645"/>
<rect x="51" y="1173.4" width="3" height="6.9" fill="#f23645"/>
<rect x="57" y="1173.8" width="1" height="5.2" fill="#089981"/>
<rect x="56" y="1177.1" width="3" height="1.5" fill="#089981"/>
<rect x="63" y="1172.3" width="1" height="4.4" fill="#089981"/>
<rect x="62" y="1174.5" width="3" height="1.1" fill="#089981"/>
<rect x="68" y="1171.9" width="1" height="5.0" fill="#f23645"/>
<rect x="67" y="1173.0" width="3" height="3.0" fill="#f23645"/>
<rect x="73" y="1173.8" width="1" height="4.1" fill="#f23645"/>
<rect x="72" y="1175.1" width="3" height="2.4" fill="#f23645"/>
<rect x="79" y="1172.8" width="1" height="3.9" fill="#089981"/>
<rect x="78" y="1174.9" width="3" height="1.5" fill="#089981"/>
<rect x="84" y="1174.9" width="1" height="10.0" fill="#f23645"/>
<rect x="83" y="1176.7" width="3" height="6.9" fill="#f23645"/>
<rect x="90" y="1177.9" width="1" height="10.0" fill="#089981"/>
<rect x="89" y="1178.4" width="3" height="6.1" fill="#089981"/>
<rect x="90" y="1179.4" width="1" height="4.1" fill="#388e3c"/>
<rect x="95" y="1176.0" width="1" height="8.0" fill="#f23645"/>
<rect x="94" y="1176.2" width="3" height="7.4" fill="#f23645"/>
<rect x="100" y="1173.8" width="1" height="11.1" fill="#089981"/>
<rect x="99" y="1174.3" width="3" height="6.9" fill="#089981"/>
<rect x="100" y="1175.3" width="1" height="4.9" fill="#388e3c"/>
<rect x="106" y="1158.0" width="1" height="17.3" fill="#089981"/>
<rect x="105" y="1159.9" width="3" height="14.8" fill="#089981"/>
<rect x="106" y="1160.9" width="1" height="12.8" fill="#388e3c"/>
<rect x="111" y="1149.1" width="1" height="10.9" fill="#089981"/>
<rect x="110" y="1152.1" width="3" height="7.4" fill="#089981"/>
<rect x="111" y="1153.1" width="1" height="5.4" fill="#388e3c"/>
<rect x="117" y="1131.1" width="1" height="8.0" fill="#f23645"/>
<rect x="116" y="1132.0" width="3" height="3.7" fill="#f23645"/>
<rect x="122" y="1101.9" width="1" height="22.1" fill="#089981"/>
<rect x="121" y="1102.9" width="3" height="19.8" fill="#089981"/>
<rect x="122" y="1103.9" width="1" height="17.8" fill="#388e3c"/>
<rect x="127" y="1092.1" width="1" height="18.0" fill="#f23645"/>
<rect x="126" y="1097.1" width="3" height="3.9" fill="#f23645"/>
<rect x="133" y="1094.3" width="1" height="20.6" fill="#f23645"/>
<rect x="132" y="1097.1" width="3" height="8.0" fill="#f23645"/>
<rect x="138" y="1096.2" width="1" height="10.7" fill="#f23645"/>
<rect x="137" y="1098.4" width="3" height="1.1" fill="#f23645"/>
<rect x="144" y="1068.9" width="1" height="33.0" fill="#089981"/>
<rect x="143" y="1069.5" width="3" height="29.1" fill="#089981"/>
<rect x="144" y="1070.5" width="1" height="27.1" fill="#388e3c"/>
<rect x="149" y="1021.2" width="1" height="62.5" fill="#f23645"/>
<rect x="148" y="1047.2" width="3" height="32.5" fill="#f23645"/>
<rect x="155" y="1061.1" width="1" height="31.0" fill="#f23645"/>
<rect x="154" y="1067.6" width="3" height="8.2" fill="#f23645"/>
<rect x="160" y="1068.0" width="1" height="19.1" fill="#089981"/>
<rect x="159" y="1069.1" width="3" height="1.8" fill="#089981"/>
<rect x="165" y="1072.2" width="1" height="12.8" fill="#089981"/>
<rect x="164" y="1078.2" width="3" height="5.9" fill="#089981"/>
<rect x="165" y="1079.2" width="1" height="3.9" fill="#388e3c"/>
<rect x="171" y="1071.1" width="1" height="9.3" fill="#f23645"/>
<rect x="170" y="1075.9" width="3" height="3.6" fill="#f23645"/>
<rect x="176" y="1049.0" width="1" height="32.0" fill="#089981"/>
<rect x="175" y="1050.0" width="3" height="24.8" fill="#089981"/>
<rect x="176" y="1051.0" width="1" height="22.8" fill="#388e3c"/>
<rect x="182" y="1044.2" width="1" height="22.8" fill="#f23645"/>
<rect x="181" y="1051.3" width="3" height="14.8" fill="#f23645"/>
<rect x="187" y="1054.0" width="1" height="12.1" fill="#f23645"/>
<rect x="186" y="1059.2" width="3" height="1.5" fill="#f23645"/>
<rect x="192" y="1041.0" width="1" height="40.9" fill="#f23645"/>
<rect x="191" y="1042.9" width="3" height="34.0" fill="#f23645"/>
<rect x="198" y="1085.0" width="1" height="19.0" fill="#089981"/>
<rect x="197" y="1094.3" width="3" height="1.5" fill="#089981"/>
<rect x="203" y="1068.9" width="1" height="26.2" fill="#089981"/>
<rect x="202" y="1069.8" width="3" height="21.9" fill="#089981"/>
<rect x="203" y="1070.8" width="1" height="19.9" fill="#388e3c"/>
<rect x="209" y="1066.1" width="1" height="18.0" fill="#f23645"/>
<rect x="208" y="1076.9" width="3" height="6.8" fill="#f23645"/>
<rect x="214" y="1071.1" width="1" height="10.2" fill="#f23645"/>
<rect x="213" y="1078.0" width="3" height="1.3" fill="#f23645"/>
<rect x="220" y="1075.8" width="1" height="8.5" fill="#f23645"/>
<rect x="219" y="1080.8" width="3" height="1.1" fill="#f23645"/>
<rect x="225" y="1075.0" width="1" height="19.0" fill="#f23645"/>
<rect x="224" y="1075.0" width="3" height="18.0" fill="#f23645"/>
<rect x="230" y="1076.3" width="1" height="13.0" fill="#089981"/>
<rect x="229" y="1081.0" width="3" height="7.8" fill="#089981"/>
<rect x="230" y="1082.0" width="1" height="5.8" fill="#388e3c"/>
<rect x="236" y="1073.0" width="1" height="13.0" fill="#f23645"/>
<rect x="235" y="1079.1" width="3" height="2.8" fill="#f23645"/>
<rect x="241" y="1078.4" width="1" height="5.9" fill="#f23645"/>
<rect x="240" y="1079.8" width="3" height="2.3" fill="#f23645"/>
<rect x="247" y="1075.0" width="1" height="8.2" fill="#f23645"/>
<rect x="246" y="1079.8" width="3" height="1.2" fill="#f23645"/>
<rect x="252" y="1078.2" width="1" height="17.1" fill="#f23645"/>
<rect x="251" y="1078.2" width="3" height="9.6" fill="#f23645"/>
<rect x="257" y="1086.0" width="1" height="14.1" fill="#f23645"/>
<rect x="256" y="1088.0" width="3" height="7.3" fill="#f23645"/>
<rect x="263" y="1094.0" width="1" height="9.8" fill="#f23645"/>
<rect x="262" y="1098.2" width="3" height="5.6" fill="#f23645"/>
<rect x="268" y="1062.0" width="1" height="29.2" fill="#089981"/>
<rect x="267" y="1068.0" width="3" height="17.0" fill="#089981"/>
<rect x="268" y="1069.0" width="1" height="15.0" fill="#388e3c"/>
<rect x="274" y="1049.0" width="1" height="16.2" fill="#089981"/>
<rect x="273" y="1055.0" width="3" height="2.8" fill="#089981"/>
<rect x="274" y="1056.0" width="1" height="0.8" fill="#388e3c"/>
<rect x="279" y="1044.8" width="1" height="9.2" fill="#f23645"/>
<rect x="278" y="1045.7" width="3" height="4.1" fill="#f23645"/>
<rect x="284" y="1010.8" width="1" height="34.1" fill="#089981"/>
<rect x="283" y="1012.8" width="3" height="31.8" fill="#089981"/>
<rect x="284" y="1013.8" width="1" height="29.8" fill="#388e3c"/>
<rect x="290" y="996.0" width="1" height="14.8" fill="#f23645"/>
<rect x="289" y="1001.2" width="3" height="2.6" fill="#f23645"/>
<rect x="295" y="998.1" width="1" height="13.9" fill="#089981"/>
<rect x="294" y="1005.2" width="3" height="2.4" fill="#089981"/>
<rect x="301" y="977.3" width="1" height="31.7" fill="#089981"/>
<rect x="300" y="980.9" width="3" height="27.8" fill="#089981"/>
<rect x="301" y="981.9" width="1" height="25.8" fill="#388e3c"/>
<rect x="306" y="961.8" width="1" height="14.3" fill="#089981"/>
<rect x="305" y="970.8" width="3" height="2.1" fill="#089981"/>
<rect x="312" y="955.8" width="1" height="39.0" fill="#f23645"/>
<rect x="311" y="955.8" width="3" height="22.9" fill="#f23645"/>
<rect x="317" y="974.7" width="1" height="12.3" fill="#089981"/>
<rect x="316" y="975.7" width="3" height="11.1" fill="#089981"/>
<rect x="317" y="976.7" width="1" height="9.1" fill="#388e3c"/>
<rect x="322" y="948.8" width="1" height="21.2" fill="#089981"/>
<rect x="321" y="950.5" width="3" height="19.1" fill="#089981"/>
<rect x="322" y="951.5" width="1" height="17.1" fill="#388e3c"/>
<rect x="328" y="923.1" width="1" height="29.9" fill="#089981"/>
<rect x="327" y="933.9" width="3" height="12.7" fill="#089981"/>
<rect x="328" y="934.9" width="1" height="10.7" fill="#388e3c"/>
<rect x="333" y="919.1" width="1" height="25.7" fill="#f23645"/>
<rect x="332" y="923.1" width="3" height="16.5" fill="#f23645"/>
<rect x="339" y="882.9" width="1" height="59.0" fill="#089981"/>
<rect x="338" y="884.6" width="3" height="54.1" fill="#089981"/>
<rect x="339" y="885.6" width="1" height="52.1" fill="#388e3c"/>
<rect x="344" y="881.0" width="1" height="30.9" fill="#f23645"/>
<rect x="343" y="881.8" width="3" height="26.9" fill="#f23645"/>
<rect x="349" y="904.0" width="1" height="71.7" fill="#f23645"/>
<rect x="348" y="904.0" width="3" height="31.8" fill="#f23645"/>
<rect x="355" y="950.0" width="1" height="29.0" fill="#f23645"/>
<rect x="354" y="974.0" width="3" height="1.0" fill="#f23645"/>
<rect x="360" y="954.0" width="1" height="53.8" fill="#089981"/>
<rect x="359" y="963.0" width="3" height="15.7" fill="#089981"/>
<rect x="360" y="964.0" width="1" height="13.7" fill="#388e3c"/>
<rect x="366" y="1011.1" width="1" height="38.7" fill="#f23645"/>
<rect x="365" y="1023.8" width="3" height="26.0" fill="#f23645"/>
<rect x="371" y="1011.1" width="1" height="26.6" fill="#089981"/>
<rect x="370" y="1013.9" width="3" height="9.9" fill="#089981"/>
<rect x="371" y="1014.9" width="1" height="7.9" fill="#388e3c"/>
<rect x="377" y="982.1" width="1" height="36.8" fill="#f23645"/>
<rect x="376" y="993.8" width="3" height="16.1" fill="#f23645"/>
<rect x="382" y="998.1" width="1" height="20.8" fill="#f23645"/>
<rect x="381" y="998.1" width="3" height="9.5" fill="#f23645"/>
<rect x="387" y="961.0" width="1" height="45.9" fill="#089981"/>
<rect x="386" y="961.8" width="3" height="37.7" fill="#089981"/>
<rect x="387" y="962.8" width="1" height="35.7" fill="#388e3c"/>
<rect x="393" y="921.0" width="1" height="29.9" fill="#089981"/>
<rect x="392" y="931.8" width="3" height="13.9" fill="#089981"/>
<rect x="393" y="932.8" width="1" height="11.9" fill="#388e3c"/>
<rect x="398" y="925.0" width="1" height="21.9" fill="#089981"/>
<rect x="397" y="940.0" width="3" height="2.6" fill="#089981"/>
<rect x="398" y="941.0" width="1" height="0.6" fill="#388e3c"/>
<rect x="404" y="944.0" width="1" height="28.9" fill="#089981"/>
<rect x="403" y="957.8" width="3" height="9.1" fill="#089981"/>
<rect x="404" y="958.8" width="1" height="7.1" fill="#388e3c"/>
<rect x="409" y="930.9" width="1" height="22.1" fill="#f23645"/>
<rect x="408" y="933.9" width="3" height="6.9" fill="#f23645"/>
<rect x="414" y="926.9" width="1" height="46.9" fill="#f23645"/>
<rect x="413" y="928.9" width="3" height="5.0" fill="#f23645"/>
<rect x="420" y="944.0" width="1" height="19.9" fill="#f23645"/>
<rect x="419" y="952.1" width="3" height="5.7" fill="#f23645"/>
<rect x="425" y="969.1" width="1" height="34.7" fill="#f23645"/>
<rect x="424" y="976.1" width="3" height="24.8" fill="#f23645"/>
<rect x="431" y="980.9" width="1" height="46.9" fill="#089981"/>
<rect x="430" y="993.1" width="3" height="23.4" fill="#089981"/>
<rect x="431" y="994.1" width="1" height="21.4" fill="#388e3c"/>
<rect x="436" y="972.1" width="1" height="16.6" fill="#089981"/>
<rect x="435" y="973.8" width="3" height="14.1" fill="#089981"/>
<rect x="436" y="974.8" width="1" height="12.1" fill="#388e3c"/>
<rect x="441" y="954.0" width="1" height="12.0" fill="#f23645"/>
<rect x="440" y="957.0" width="3" height="3.8" fill="#f23645"/>
<rect x="447" y="953.0" width="1" height="17.0" fill="#089981"/>
<rect x="446" y="962.2" width="3" height="3.4" fill="#089981"/>
<rect x="447" y="963.2" width="1" height="1.4" fill="#388e3c"/>
<rect x="452" y="947.9" width="1" height="12.9" fill="#089981"/>
<rect x="451" y="953.1" width="3" height="7.3" fill="#089981"/>
<rect x="452" y="954.1" width="1" height="5.3" fill="#388e3c"/>
<rect x="458" y="933.0" width="1" height="13.9" fill="#089981"/>
<rect x="457" y="933.9" width="3" height="7.8" fill="#089981"/>
<rect x="458" y="934.9" width="1" height="5.8" fill="#388e3c"/>
<rect x="463" y="943.1" width="1" height="23.8" fill="#f23645"/>
<rect x="462" y="959.9" width="3" height="7.0" fill="#f23645"/>
<rect x="469" y="947.9" width="1" height="13.9" fill="#089981"/>
<rect x="468" y="956.1" width="3" height="2.9" fill="#089981"/>
<rect x="469" y="957.1" width="1" height="0.9" fill="#388e3c"/>
<rect x="474" y="953.0" width="1" height="21.8" fill="#f23645"/>
<rect x="473" y="957.8" width="3" height="10.1" fill="#f23645"/>
<rect x="479" y="952.1" width="1" height="14.8" fill="#089981"/>
<rect x="478" y="956.1" width="3" height="6.9" fill="#089981"/>
<rect x="479" y="957.1" width="1" height="4.9" fill="#388e3c"/>
<rect x="485" y="943.1" width="1" height="13.9" fill="#f23645"/>
<rect x="484" y="944.0" width="3" height="12.6" fill="#f23645"/>
<rect x="490" y="946.9" width="1" height="8.0" fill="#089981"/>
<rect x="489" y="947.9" width="3" height="5.1" fill="#089981"/>
<rect x="490" y="948.9" width="1" height="3.1" fill="#388e3c"/>
<rect x="496" y="933.0" width="1" height="10.1" fill="#089981"/>
<rect x="495" y="940.0" width="3" height="1.0" fill="#089981"/>
<rect x="501" y="933.0" width="1" height="11.8" fill="#089981"/>
<rect x="500" y="935.8" width="3" height="4.2" fill="#089981"/>
<rect x="501" y="936.8" width="1" height="2.2" fill="#388e3c"/>
<rect x="506" y="917.1" width="1" height="17.8" fill="#089981"/>
<rect x="505" y="921.0" width="3" height="12.0" fill="#089981"/>
<rect x="506" y="922.0" width="1" height="10.0" fill="#388e3c"/>
<rect x="512" y="926.1" width="1" height="13.9" fill="#f23645"/>
<rect x="511" y="932.2" width="3" height="1.7" fill="#f23645"/>
<rect x="517" y="926.1" width="1" height="16.6" fill="#f23645"/>
<rect x="516" y="928.0" width="3" height="14.7" fill="#f23645"/>
<rect x="523" y="934.9" width="1" height="18.1" fill="#f23645"/>
<rect x="522" y="935.8" width="3" height="16.0" fill="#f23645"/>
<rect x="528" y="950.0" width="1" height="11.8" fill="#f23645"/>
<rect x="527" y="950.0" width="3" height="11.0" fill="#f23645"/>
<rect x="534" y="949.0" width="1" height="10.9" fill="#f23645"/>
<rect x="533" y="958.9" width="3" height="1.0" fill="#f23645"/>
<rect x="539" y="937.0" width="1" height="20.0" fill="#f23645"/>
<rect x="538" y="940.0" width="3" height="16.6" fill="#f23645"/>
<rect x="544" y="958.9" width="1" height="15.1" fill="#f23645"/>
<rect x="543" y="959.7" width="3" height="2.1" fill="#f23645"/>
<rect x="550" y="956.1" width="1" height="15.1" fill="#089981"/>
<rect x="549" y="961.0" width="3" height="9.8" fill="#089981"/>
<rect x="550" y="962.0" width="1" height="7.8" fill="#388e3c"/>
<rect x="555" y="950.9" width="1" height="10.1" fill="#089981"/>
<rect x="554" y="957.0" width="3" height="1.9" fill="#089981"/>
<rect x="561" y="963.0" width="1" height="13.1" fill="#f23645"/>
<rect x="560" y="964.8" width="3" height="10.9" fill="#f23645"/>
<rect x="566" y="963.0" width="1" height="11.8" fill="#089981"/>
<rect x="565" y="970.0" width="3" height="1.7" fill="#089981"/>
<rect x="571" y="974.0" width="1" height="26.9" fill="#f23645"/>
<rect x="570" y="974.0" width="3" height="19.8" fill="#f23645"/>
<rect x="577" y="974.0" width="1" height="14.2" fill="#089981"/>
<rect x="576" y="979.9" width="3" height="8.0" fill="#089981"/>
<rect x="577" y="980.9" width="1" height="6.0" fill="#388e3c"/>
<rect x="582" y="954.0" width="1" height="20.0" fill="#089981"/>
<rect x="581" y="958.1" width="3" height="14.2" fill="#089981"/>
<rect x="582" y="959.1" width="1" height="12.2" fill="#388e3c"/>
<rect x="588" y="946.0" width="1" height="18.1" fill="#f23645"/>
<rect x="587" y="951.0" width="3" height="10.1" fill="#f23645"/>
<rect x="593" y="941.9" width="1" height="16.2" fill="#089981"/>
<rect x="592" y="943.9" width="3" height="9.7" fill="#089981"/>
<rect x="593" y="944.9" width="1" height="7.7" fill="#388e3c"/>
<rect x="598" y="944.7" width="1" height="12.3" fill="#f23645"/>
<rect x="597" y="946.0" width="3" height="6.7" fill="#f23645"/>
<rect x="604" y="930.0" width="1" height="31.1" fill="#f23645"/>
<rect x="603" y="941.9" width="3" height="18.8" fill="#f23645"/>
<rect x="609" y="961.1" width="1" height="23.9" fill="#f23645"/>
<rect x="608" y="961.1" width="3" height="10.6" fill="#f23645"/>
<rect x="615" y="962.9" width="1" height="8.3" fill="#089981"/>
<rect x="614" y="964.1" width="3" height="1.8" fill="#089981"/>
<rect x="620" y="958.9" width="1" height="13.2" fill="#f23645"/>
<rect x="619" y="965.9" width="3" height="4.1" fill="#f23645"/>
<rect x="626" y="969.1" width="1" height="9.7" fill="#f23645"/>
<rect x="625" y="970.0" width="3" height="3.9" fill="#f23645"/>
<rect x="631" y="969.1" width="1" height="8.0" fill="#f23645"/>
<rect x="630" y="972.1" width="3" height="1.4" fill="#f23645"/>
<rect x="636" y="921.1" width="1" height="27.9" fill="#f23645"/>
<rect x="635" y="922.0" width="3" height="19.0" fill="#f23645"/>
<rect x="642" y="887.9" width="1" height="51.0" fill="#089981"/>
<rect x="641" y="896.8" width="3" height="38.0" fill="#089981"/>
<rect x="642" y="897.8" width="1" height="36.0" fill="#388e3c"/>
<rect x="647" y="875.0" width="1" height="21.3" fill="#089981"/>
<rect x="646" y="884.2" width="3" height="7.6" fill="#089981"/>
<rect x="647" y="885.2" width="1" height="5.6" fill="#388e3c"/>
<rect x="653" y="881.2" width="1" height="13.8" fill="#f23645"/>
<rect x="652" y="886.0" width="3" height="8.9" fill="#f23645"/>
<rect x="658" y="858.1" width="1" height="23.6" fill="#089981"/>
<rect x="657" y="862.0" width="3" height="18.8" fill="#089981"/>
<rect x="658" y="863.0" width="1" height="16.8" fill="#388e3c"/>
<rect x="663" y="824.9" width="1" height="32.9" fill="#089981"/>
<rect x="662" y="830.1" width="3" height="14.7" fill="#089981"/>
<rect x="663" y="831.1" width="1" height="12.7" fill="#388e3c"/>
<rect x="669" y="812.0" width="1" height="27.1" fill="#089981"/>
<rect x="668" y="812.0" width="3" height="23.9" fill="#089981"/>
<rect x="669" y="813.0" width="1" height="21.9" fill="#388e3c"/>
<rect x="674" y="788.0" width="1" height="19.2" fill="#089981"/>
<rect x="673" y="800.1" width="3" height="6.0" fill="#089981"/>
<rect x="674" y="801.1" width="1" height="4.0" fill="#388e3c"/>
<rect x="680" y="779.1" width="1" height="51.9" fill="#f23645"/>
<rect x="679" y="784.2" width="3" height="34.5" fill="#f23645"/>
<rect x="685" y="787.7" width="1" height="26.4" fill="#f23645"/>
<rect x="684" y="788.8" width="3" height="13.0" fill="#f23645"/>
<rect x="691" y="814.1" width="1" height="29.8" fill="#089981"/>
<rect x="690" y="816.9" width="3" height="12.8" fill="#089981"/>
<rect x="691" y="817.9" width="1" height="10.8" fill="#388e3c"/>
<rect x="696" y="787.0" width="1" height="15.9" fill="#089981"/>
<rect x="695" y="793.1" width="3" height="3.8" fill="#089981"/>
<rect x="696" y="794.1" width="1" height="1.8" fill="#388e3c"/>
<rect x="701" y="787.0" width="1" height="13.0" fill="#089981"/>
<rect x="700" y="787.3" width="3" height="8.4" fill="#089981"/>
<rect x="701" y="788.3" width="1" height="6.4" fill="#388e3c"/>
<rect x="707" y="739.2" width="1" height="43.8" fill="#089981"/>
<rect x="706" y="746.2" width="3" height="36.5" fill="#089981"/>
<rect x="707" y="747.2" width="1" height="34.5" fill="#388e3c"/>
<rect x="712" y="736.2" width="1" height="31.9" fill="#089981"/>
<rect x="711" y="738.2" width="3" height="24.5" fill="#089981"/>
<rect x="712" y="739.2" width="1" height="22.5" fill="#388e3c"/>
<rect x="718" y="734.0" width="1" height="64.0" fill="#f23645"/>
<rect x="717" y="734.0" width="3" height="49.0" fill="#f23645"/>
<rect x="723" y="758.9" width="1" height="60.1" fill="#089981"/>
<rect x="722" y="760.1" width="3" height="51.7" fill="#089981"/>
<rect x="723" y="761.1" width="1" height="49.7" fill="#388e3c"/>
<rect x="728" y="763.0" width="1" height="26.1" fill="#f23645"/>
<rect x="727" y="772.2" width="3" height="5.6" fill="#f23645"/>
<rect x="734" y="745.1" width="1" height="31.0" fill="#089981"/>
<rect x="733" y="748.1" width="3" height="20.8" fill="#089981"/>
<rect x="734" y="749.1" width="1" height="18.8" fill="#388e3c"/>
<rect x="739" y="740.9" width="1" height="22.3" fill="#f23645"/>
<rect x="738" y="744.3" width="3" height="10.4" fill="#f23645"/>
<rect x="745" y="755.0" width="1" height="26.1" fill="#f23645"/>
<rect x="744" y="759.2" width="3" height="5.8" fill="#f23645"/>
<rect x="750" y="729.0" width="1" height="38.0" fill="#089981"/>
<rect x="749" y="732.0" width="3" height="28.0" fill="#089981"/>
<rect x="750" y="733.0" width="1" height="26.0" fill="#388e3c"/>
<rect x="755" y="694.0" width="1" height="65.2" fill="#089981"/>
<rect x="754" y="694.0" width="3" height="25.8" fill="#089981"/>
<rect x="755" y="695.0" width="1" height="23.8" fill="#388e3c"/>
<rect x="761" y="720.1" width="1" height="21.9" fill="#f23645"/>
<rect x="760" y="722.1" width="3" height="16.8" fill="#f23645"/>
<rect x="766" y="738.2" width="1" height="34.8" fill="#f23645"/>
<rect x="765" y="740.0" width="3" height="7.8" fill="#f23645"/>
<rect x="772" y="736.2" width="1" height="27.7" fill="#089981"/>
<rect x="771" y="742.0" width="3" height="13.8" fill="#089981"/>
<rect x="772" y="743.0" width="1" height="11.8" fill="#388e3c"/>
<rect x="777" y="722.1" width="1" height="24.1" fill="#089981"/>
<rect x="776" y="726.2" width="3" height="19.6" fill="#089981"/>
<rect x="777" y="727.2" width="1" height="17.6" fill="#388e3c"/>
<rect x="783" y="707.0" width="1" height="20.1" fill="#f23645"/>
<rect x="782" y="714.1" width="3" height="10.7" fill="#f23645"/>
<rect x="788" y="717.9" width="1" height="15.2" fill="#089981"/>
<rect x="787" y="722.1" width="3" height="5.8" fill="#089981"/>
<rect x="788" y="723.1" width="1" height="3.8" fill="#388e3c"/>
<rect x="793" y="692.2" width="1" height="27.9" fill="#089981"/>
<rect x="792" y="694.0" width="3" height="22.7" fill="#089981"/>
<rect x="793" y="695.0" width="1" height="20.7" fill="#388e3c"/>
<rect x="799" y="671.0" width="1" height="27.0" fill="#089981"/>
<rect x="798" y="684.2" width="3" height="5.7" fill="#089981"/>
<rect x="799" y="685.2" width="1" height="3.7" fill="#388e3c"/>
<rect x="804" y="645.8" width="1" height="26.4" fill="#089981"/>
<rect x="803" y="659.9" width="3" height="11.2" fill="#089981"/>
<rect x="804" y="660.9" width="1" height="9.2" fill="#388e3c"/>
<rect x="810" y="649.2" width="1" height="20.6" fill="#089981"/>
<rect x="809" y="655.0" width="3" height="11.9" fill="#089981"/>
<rect x="810" y="656.0" width="1" height="9.9" fill="#388e3c"/>
<rect x="815" y="617.0" width="1" height="23.8" fill="#f23645"/>
<rect x="814" y="631.9" width="3" height="4.4" fill="#f23645"/>
<rect x="820" y="574.9" width="1" height="40.9" fill="#089981"/>
<rect x="819" y="576.2" width="3" height="38.4" fill="#089981"/>
<rect x="820" y="577.2" width="1" height="36.4" fill="#388e3c"/>
<rect x="826" y="510.0" width="1" height="43.9" fill="#089981"/>
<rect x="825" y="514.1" width="3" height="23.7" fill="#089981"/>
<rect x="826" y="515.1" width="1" height="21.7" fill="#388e3c"/>
<rect x="831" y="539.1" width="1" height="48.7" fill="#f23645"/>
<rect x="830" y="543.9" width="3" height="38.0" fill="#f23645"/>
<rect x="837" y="526.2" width="1" height="38.7" fill="#089981"/>
<rect x="836" y="543.9" width="3" height="19.1" fill="#089981"/>
<rect x="837" y="544.9" width="1" height="17.1" fill="#388e3c"/>
<rect x="842" y="532.9" width="1" height="28.0" fill="#089981"/>
<rect x="841" y="539.1" width="3" height="1.9" fill="#089981"/>
<rect x="848" y="531.0" width="1" height="22.9" fill="#089981"/>
<rect x="847" y="548.0" width="3" height="3.2" fill="#089981"/>
<rect x="848" y="549.0" width="1" height="1.2" fill="#388e3c"/>
<rect x="853" y="533.9" width="1" height="39.1" fill="#f23645"/>
<rect x="852" y="541.0" width="3" height="26.0" fill="#f23645"/>
<rect x="858" y="543.1" width="1" height="17.0" fill="#089981"/>
<rect x="857" y="548.0" width="3" height="8.0" fill="#089981"/>
<rect x="858" y="549.0" width="1" height="6.0" fill="#388e3c"/>
<rect x="864" y="533.9" width="1" height="22.1" fill="#f23645"/>
<rect x="863" y="535.0" width="3" height="8.9" fill="#f23645"/>
<rect x="869" y="537.9" width="1" height="14.1" fill="#f23645"/>
<rect x="868" y="537.9" width="3" height="11.2" fill="#f23645"/>
<rect x="875" y="545.0" width="1" height="19.1" fill="#089981"/>
<rect x="874" y="546.0" width="3" height="12.8" fill="#089981"/>
<rect x="875" y="547.0" width="1" height="10.8" fill="#388e3c"/>
<rect x="880" y="494.2" width="1" height="59.7" fill="#089981"/>
<rect x="879" y="512.9" width="3" height="25.9" fill="#089981"/>
<rect x="880" y="513.9" width="1" height="23.9" fill="#388e3c"/>
<rect x="885" y="499.0" width="1" height="23.1" fill="#f23645"/>
<rect x="884" y="502.8" width="3" height="9.2" fill="#f23645"/>
<rect x="891" y="503.1" width="1" height="31.9" fill="#f23645"/>
<rect x="890" y="522.9" width="3" height="7.0" fill="#f23645"/>
<rect x="896" y="545.0" width="1" height="46.1" fill="#089981"/>
<rect x="895" y="557.2" width="3" height="15.8" fill="#089981"/>
<rect x="896" y="558.2" width="1" height="13.8" fill="#388e3c"/>
<rect x="902" y="550.9" width="1" height="60.0" fill="#f23645"/>
<rect x="901" y="563.0" width="3" height="36.1" fill="#f23645"/>
<rect x="907" y="550.9" width="1" height="45.2" fill="#089981"/>
<rect x="906" y="552.8" width="3" height="26.1" fill="#089981"/>
<rect x="907" y="553.8" width="1" height="24.1" fill="#388e3c"/>
<rect x="912" y="512.9" width="1" height="38.0" fill="#089981"/>
<rect x="911" y="521.0" width="3" height="28.1" fill="#089981"/>
<rect x="912" y="522.0" width="1" height="26.1" fill="#388e3c"/>
<rect x="918" y="516.0" width="1" height="23.9" fill="#f23645"/>
<rect x="917" y="517.0" width="3" height="22.9" fill="#f23645"/>
<rect x="923" y="537.0" width="1" height="21.9" fill="#f23645"/>
<rect x="922" y="537.9" width="3" height="6.0" fill="#f23645"/>
<rect x="929" y="528.9" width="1" height="25.0" fill="#089981"/>
<rect x="928" y="541.0" width="3" height="8.1" fill="#089981"/>
<rect x="929" y="542.0" width="1" height="6.1" fill="#388e3c"/>
<rect x="934" y="516.0" width="1" height="23.1" fill="#f23645"/>
<rect x="933" y="524.1" width="3" height="6.9" fill="#f23645"/>
<rect x="940" y="533.9" width="1" height="17.0" fill="#f23645"/>
<rect x="939" y="537.9" width="3" height="7.1" fill="#f23645"/>
<rect x="945" y="548.0" width="1" height="43.9" fill="#f23645"/>
<rect x="944" y="549.1" width="3" height="38.7" fill="#f23645"/>
<rect x="950" y="563.0" width="1" height="26.9" fill="#f23645"/>
<rect x="949" y="579.9" width="3" height="1.0" fill="#f23645"/>
<rect x="956" y="574.9" width="1" height="31.2" fill="#089981"/>
<rect x="955" y="575.9" width="3" height="16.0" fill="#089981"/>
<rect x="956" y="576.9" width="1" height="14.0" fill="#388e3c"/>
<rect x="961" y="571.0" width="1" height="28.1" fill="#f23645"/>
<rect x="960" y="573.8" width="3" height="22.3" fill="#f23645"/>
<rect x="967" y="591.9" width="1" height="37.1" fill="#089981"/>
<rect x="966" y="594.0" width="3" height="19.0" fill="#089981"/>
<rect x="967" y="595.0" width="1" height="17.0" fill="#388e3c"/>
<rect x="972" y="596.9" width="1" height="18.0" fill="#089981"/>
<rect x="971" y="604.0" width="3" height="6.9" fill="#089981"/>
<rect x="972" y="605.0" width="1" height="4.9" fill="#388e3c"/>
<rect x="977" y="595.1" width="1" height="18.7" fill="#f23645"/>
<rect x="976" y="596.9" width="3" height="14.0" fill="#f23645"/>
<rect x="983" y="622.2" width="1" height="56.9" fill="#f23645"/>
<rect x="982" y="628.2" width="3" height="48.1" fill="#f23645"/>
<rect x="988" y="676.3" width="1" height="91.6" fill="#089981"/>
<rect x="987" y="690.2" width="3" height="36.5" fill="#089981"/>
<rect x="988" y="691.2" width="1" height="34.5" fill="#388e3c"/>
<rect x="994" y="645.0" width="1" height="49.8" fill="#089981"/>
<rect x="993" y="647.8" width="3" height="30.9" fill="#089981"/>
<rect x="994" y="648.8" width="1" height="28.9" fill="#388e3c"/>
<rect x="999" y="653.1" width="1" height="64.9" fill="#f23645"/>
<rect x="998" y="664.0" width="3" height="42.9" fill="#f23645"/>
<rect x="1005" y="683.1" width="1" height="45.0" fill="#f23645"/>
<rect x="1004" y="688.8" width="3" height="25.2" fill="#f23645"/>
<rect x="1010" y="671.0" width="1" height="32.9" fill="#089981"/>
<rect x="1009" y="671.0" width="3" height="28.9" fill="#089981"/>
<rect x="1010" y="672.0" width="1" height="26.9" fill="#388e3c"/>
<rect x="1015" y="669.0" width="1" height="34.9" fill="#f23645"/>
<rect x="1014" y="671.0" width="3" height="32.3" fill="#f23645"/>
<rect x="1021" y="688.2" width="1" height="47.6" fill="#f23645"/>
<rect x="1020" y="701.3" width="3" height="34.5" fill="#f23645"/>
<rect x="1026" y="720.1" width="1" height="65.9" fill="#f23645"/>
<rect x="1025" y="732.2" width="3" height="33.9" fill="#f23645"/>
<rect x="1032" y="759.0" width="1" height="85.8" fill="#f23645"/>
<rect x="1031" y="760.8" width="3" height="28.3" fill="#f23645"/>
<rect x="1037" y="767.1" width="1" height="58.9" fill="#f23645"/>
<rect x="1036" y="786.0" width="3" height="37.0" fill="#f23645"/>
<rect x="1042" y="710.4" width="1" height="80.3" fill="#089981"/>
<rect x="1041" y="715.0" width="3" height="63.6" fill="#089981"/>
<rect x="1042" y="716.0" width="1" height="61.6" fill="#388e3c"/>
<rect x="1048" y="672.0" width="1" height="60.8" fill="#f23645"/>
<rect x="1047" y="688.8" width="3" height="32.3" fill="#f23645"/>
<rect x="1053" y="686.8" width="1" height="24.2" fill="#089981"/>
<rect x="1052" y="688.8" width="3" height="2.0" fill="#089981"/>
<rect x="1059" y="694.2" width="1" height="27.9" fill="#089981"/>
<rect x="1058" y="694.8" width="3" height="24.2" fill="#089981"/>
<rect x="1059" y="695.8" width="1" height="22.2" fill="#388e3c"/>
<rect x="1064" y="676.3" width="1" height="28.6" fill="#089981"/>
<rect x="1063" y="681.1" width="3" height="14.7" fill="#089981"/>
<rect x="1064" y="682.1" width="1" height="12.7" fill="#388e3c"/>
<rect x="1069" y="681.1" width="1" height="35.9" fill="#f23645"/>
<rect x="1068" y="686.2" width="3" height="26.8" fill="#f23645"/>
<rect x="1075" y="685.1" width="1" height="51.7" fill="#089981"/>
<rect x="1074" y="686.8" width="3" height="45.4" fill="#089981"/>
<rect x="1075" y="687.8" width="1" height="43.4" fill="#388e3c"/>
<rect x="1080" y="699.9" width="1" height="35.9" fill="#f23645"/>
<rect x="1079" y="703.9" width="3" height="31.9" fill="#f23645"/>
<rect x="1086" y="730.8" width="1" height="31.0" fill="#089981"/>
<rect x="1085" y="732.8" width="3" height="9.0" fill="#089981"/>
<rect x="1086" y="733.8" width="1" height="7.0" fill="#388e3c"/>
<rect x="1091" y="689.2" width="1" height="29.8" fill="#f23645"/>
<rect x="1090" y="703.9" width="3" height="15.1" fill="#f23645"/>
<rect x="1097" y="711.0" width="1" height="19.1" fill="#f23645"/>
<rect x="1096" y="713.0" width="3" height="14.1" fill="#f23645"/>
<rect x="1102" y="720.1" width="1" height="37.7" fill="#f23645"/>
<rect x="1101" y="720.1" width="3" height="37.7" fill="#f23645"/>
<rect x="1107" y="742.3" width="1" height="34.9" fill="#089981"/>
<rect x="1106" y="746.9" width="3" height="28.0" fill="#089981"/>
<rect x="1107" y="747.9" width="1" height="26.0" fill="#388e3c"/>
<rect x="1113" y="743.9" width="1" height="42.1" fill="#f23645"/>
<rect x="1112" y="745.9" width="3" height="23.0" fill="#f23645"/>
<rect x="1118" y="769.9" width="1" height="20.2" fill="#f23645"/>
<rect x="1117" y="771.1" width="3" height="4.8" fill="#f23645"/>
<rect x="1124" y="749.9" width="1" height="44.8" fill="#089981"/>
<rect x="1123" y="751.9" width="3" height="33.7" fill="#089981"/>
<rect x="1124" y="752.9" width="1" height="31.7" fill="#388e3c"/>
<rect x="1129" y="716.0" width="1" height="29.9" fill="#089981"/>
<rect x="1128" y="720.1" width="3" height="21.7" fill="#089981"/>
<rect x="1129" y="721.1" width="1" height="19.7" fill="#388e3c"/>
<rect x="1134" y="696.2" width="1" height="32.5" fill="#f23645"/>
<rect x="1133" y="699.9" width="3" height="27.2" fill="#f23645"/>
<rect x="1140" y="681.1" width="1" height="22.8" fill="#f23645"/>
<rect x="1139" y="682.1" width="3" height="16.8" fill="#f23645"/>
<rect x="1145" y="692.2" width="1" height="14.7" fill="#089981"/>
<rect x="1144" y="696.9" width="3" height="3.0" fill="#089981"/>
<rect x="1145" y="697.9" width="1" height="1.0" fill="#388e3c"/>
<rect x="1151" y="697.3" width="1" height="22.8" fill="#f23645"/>
<rect x="1150" y="701.9" width="3" height="16.1" fill="#f23645"/>
<rect x="1156" y="698.9" width="1" height="18.1" fill="#089981"/>
<rect x="1155" y="704.9" width="3" height="7.1" fill="#089981"/>
<rect x="1156" y="705.9" width="1" height="5.1" fill="#388e3c"/>
<rect x="1161" y="707.9" width="1" height="11.1" fill="#f23645"/>
<rect x="1160" y="710.6" width="3" height="1.2" fill="#f23645"/>
<rect x="1167" y="684.1" width="1" height="22.8" fill="#089981"/>
<rect x="1166" y="686.8" width="3" height="17.1" fill="#089981"/>
<rect x="1167" y="687.8" width="1" height="15.1" fill="#388e3c"/>
<rect x="1172" y="628.2" width="1" height="50.9" fill="#089981"/>
<rect x="1171" y="628.2" width="3" height="49.5" fill="#089981"/>
<rect x="1172" y="629.2" width="1" height="47.5" fill="#388e3c"/>
<rect x="1178" y="610.1" width="1" height="51.8" fill="#f23645"/>
<rect x="1177" y="619.8" width="3" height="39.1" fill="#f23645"/>
<rect x="1183" y="647.0" width="1" height="21.0" fill="#f23645"/>
<rect x="1182" y="647.4" width="3" height="4.7" fill="#f23645"/>
<rect x="1189" y="641.0" width="1" height="24.0" fill="#089981"/>
<rect x="1188" y="650.0" width="3" height="11.9" fill="#089981"/>
<rect x="1189" y="651.0" width="1" height="9.9" fill="#388e3c"/>
<rect x="1194" y="664.0" width="1" height="32.9" fill="#f23645"/>
<rect x="1193" y="670.0" width="3" height="6.1" fill="#f23645"/>
<rect x="1199" y="653.1" width="1" height="26.0" fill="#089981"/>
<rect x="1198" y="671.0" width="3" height="2.0" fill="#089981"/>
<rect x="1205" y="645.0" width="1" height="45.8" fill="#089981"/>
<rect x="1204" y="646.0" width="3" height="38.7" fill="#089981"/>
<rect x="1205" y="647.0" width="1" height="36.7" fill="#388e3c"/>
<rect x="1210" y="636.9" width="1" height="35.1" fill="#f23645"/>
<rect x="1209" y="649.0" width="3" height="22.0" fill="#f23645"/>
<rect x="1216" y="653.1" width="1" height="21.0" fill="#089981"/>
<rect x="1215" y="659.9" width="3" height="10.7" fill="#089981"/>
<rect x="1216" y="660.9" width="1" height="8.7" fill="#388e3c"/>
<rect x="1221" y="641.0" width="1" height="16.1" fill="#f23645"/>
<rect x="1220" y="649.0" width="3" height="3.9" fill="#f23645"/>
<rect x="1226" y="666.0" width="1" height="20.2" fill="#f23645"/>
<rect x="1225" y="672.0" width="3" height="12.7" fill="#f23645"/>
<rect x="1232" y="681.1" width="1" height="15.1" fill="#f23645"/>
<rect x="1231" y="692.8" width="3" height="3.0" fill="#f23645"/>
<rect x="1237" y="687.2" width="1" height="32.9" fill="#f23645"/>
<rect x="1236" y="690.2" width="3" height="21.8" fill="#f23645"/>
<rect x="1243" y="674.1" width="1" height="47.7" fill="#089981"/>
<rect x="1242" y="679.9" width="3" height="41.9" fill="#089981"/>
<rect x="1243" y="680.9" width="1" height="39.9" fill="#388e3c"/>
<rect x="1248" y="683.0" width="1" height="25.0" fill="#f23645"/>
<rect x="1247" y="685.0" width="3" height="20.2" fill="#f23645"/>
<rect x="1254" y="704.9" width="1" height="25.2" fill="#f23645"/>
<rect x="1253" y="709.8" width="3" height="6.2" fill="#f23645"/>
<rect x="1259" y="703.3" width="1" height="17.7" fill="#f23645"/>
<rect x="1258" y="708.0" width="3" height="10.0" fill="#f23645"/>
<rect x="1264" y="708.0" width="1" height="29.9" fill="#f23645"/>
<rect x="1263" y="708.0" width="3" height="18.0" fill="#f23645"/>
<rect x="1270" y="699.1" width="1" height="28.7" fill="#089981"/>
<rect x="1269" y="716.0" width="3" height="6.9" fill="#089981"/>
<rect x="1270" y="717.0" width="1" height="4.9" fill="#388e3c"/>
<rect x="1275" y="722.9" width="1" height="36.0" fill="#f23645"/>
<rect x="1274" y="722.9" width="3" height="36.0" fill="#f23645"/>
<rect x="1281" y="760.0" width="1" height="31.1" fill="#089981"/>
<rect x="1280" y="770.0" width="3" height="17.8" fill="#089981"/>
<rect x="1281" y="771.0" width="1" height="15.8" fill="#388e3c"/>
<rect x="1286" y="765.8" width="1" height="33.3" fill="#f23645"/>
<rect x="1285" y="783.9" width="3" height="13.1" fill="#f23645"/>
<rect x="1291" y="780.1" width="1" height="46.0" fill="#f23645"/>
<rect x="1290" y="785.0" width="3" height="29.9" fill="#f23645"/>
<rect x="1297" y="793.0" width="1" height="21.9" fill="#089981"/>
<rect x="1296" y="796.0" width="3" height="6.9" fill="#089981"/>
<rect x="1297" y="797.0" width="1" height="4.9" fill="#388e3c"/>
<rect x="1302" y="796.0" width="1" height="28.1" fill="#089981"/>
<rect x="1301" y="808.8" width="3" height="2.0" fill="#089981"/>
<rect x="1308" y="790.1" width="1" height="32.0" fill="#089981"/>
<rect x="1307" y="808.0" width="3" height="10.0" fill="#089981"/>
<rect x="1308" y="809.0" width="1" height="8.0" fill="#388e3c"/>
<rect x="1313" y="819.0" width="1" height="18.9" fill="#089981"/>
<rect x="1312" y="822.1" width="3" height="11.2" fill="#089981"/>
<rect x="1313" y="823.1" width="1" height="9.2" fill="#388e3c"/>
<rect x="1318" y="797.0" width="1" height="16.8" fill="#089981"/>
<rect x="1317" y="798.8" width="3" height="12.6" fill="#089981"/>
<rect x="1318" y="799.8" width="1" height="10.6" fill="#388e3c"/>
<rect x="1324" y="790.1" width="1" height="15.6" fill="#f23645"/>
<rect x="1323" y="790.1" width="3" height="15.6" fill="#f23645"/>
<rect x="1329" y="772.0" width="1" height="39.8" fill="#089981"/>
<rect x="1328" y="780.1" width="3" height="24.8" fill="#089981"/>
<rect x="1329" y="781.1" width="1" height="22.8" fill="#388e3c"/>
<rect x="1335" y="773.0" width="1" height="18.1" fill="#f23645"/>
<rect x="1334" y="778.9" width="3" height="4.1" fill="#f23645"/>
<rect x="1340" y="760.9" width="1" height="24.1" fill="#089981"/>
<rect x="1339" y="768.1" width="3" height="11.8" fill="#089981"/>
<rect x="1340" y="769.1" width="1" height="9.8" fill="#388e3c"/>
<rect x="1346" y="755.9" width="1" height="15.0" fill="#089981"/>
<rect x="1345" y="756.2" width="3" height="11.6" fill="#089981"/>
<rect x="1346" y="757.2" width="1" height="9.6" fill="#388e3c"/>
<rect x="1351" y="752.0" width="1" height="13.1" fill="#f23645"/>
<rect x="1350" y="758.9" width="3" height="4.2" fill="#f23645"/>
<rect x="1356" y="752.8" width="1" height="13.3" fill="#f23645"/>
<rect x="1355" y="758.9" width="3" height="5.1" fill="#f23645"/>
<rect x="1362" y="764.0" width="1" height="23.0" fill="#f23645"/>
<rect x="1361" y="766.9" width="3" height="15.0" fill="#f23645"/>
<rect x="1367" y="781.9" width="1" height="31.9" fill="#f23645"/>
<rect x="1366" y="785.0" width="3" height="28.8" fill="#f23645"/>
<rect x="1373" y="786.1" width="1" height="22.7" fill="#089981"/>
<rect x="1372" y="787.0" width="3" height="19.8" fill="#089981"/>
<rect x="1373" y="788.0" width="1" height="17.8" fill="#388e3c"/>
<rect x="1378" y="777.0" width="1" height="25.9" fill="#089981"/>
<rect x="1377" y="780.9" width="3" height="14.1" fill="#089981"/>
<rect x="1378" y="781.9" width="1" height="12.1" fill="#388e3c"/>
<rect x="1383" y="764.0" width="1" height="27.1" fill="#f23645"/>
<rect x="1382" y="764.0" width="3" height="19.9" fill="#f23645"/>
<rect x="1389" y="775.0" width="1" height="13.8" fill="#f23645"/>
<rect x="1388" y="783.9" width="3" height="4.9" fill="#f23645"/>
<rect x="1394" y="770.0" width="1" height="16.1" fill="#089981"/>
<rect x="1393" y="777.0" width="3" height="6.9" fill="#089981"/>
<rect x="1394" y="778.0" width="1" height="4.9" fill="#388e3c"/>
<rect x="1400" y="774.0" width="1" height="11.0" fill="#f23645"/>
<rect x="1399" y="776.1" width="3" height="2.0" fill="#f23645"/>
<rect x="1405" y="762.0" width="1" height="15.0" fill="#089981"/>
<rect x="1404" y="768.9" width="3" height="6.1" fill="#089981"/>
<rect x="1405" y="769.9" width="1" height="4.1" fill="#388e3c"/>
<rect x="1411" y="770.0" width="1" height="17.8" fill="#f23645"/>
<rect x="1410" y="770.0" width="3" height="17.8" fill="#f23645"/>
<rect x="1416" y="778.1" width="1" height="14.9" fill="#089981"/>
<rect x="1415" y="781.9" width="3" height="8.2" fill="#089981"/>
<rect x="1416" y="782.9" width="1" height="6.2" fill="#388e3c"/>
<rect x="1421" y="765.1" width="1" height="20.7" fill="#089981"/>
<rect x="1420" y="770.0" width="3" height="15.8" fill="#089981"/>
<rect x="1421" y="771.0" width="1" height="13.8" fill="#388e3c"/>
<rect x="1427" y="758.9" width="1" height="16.1" fill="#089981"/>
<rect x="1426" y="764.0" width="3" height="10.0" fill="#089981"/>
<rect x="1427" y="765.0" width="1" height="8.0" fill="#388e3c"/>
<rect x="1432" y="756.2" width="1" height="21.9" fill="#f23645"/>
<rect x="1431" y="763.1" width="3" height="3.8" fill="#f23645"/>
<rect x="1438" y="758.9" width="1" height="12.0" fill="#089981"/>
<rect x="1437" y="763.1" width="3" height="6.9" fill="#089981"/>
<rect x="1438" y="764.1" width="1" height="4.9" fill="#388e3c"/>
<rect x="1443" y="731.0" width="1" height="25.9" fill="#089981"/>
<rect x="1442" y="731.0" width="3" height="24.9" fill="#089981"/>
<rect x="1443" y="732.0" width="1" height="22.9" fill="#388e3c"/>
<rect x="1448" y="691.1" width="1" height="29.9" fill="#089981"/>
<rect x="1447" y="709.1" width="3" height="4.9" fill="#089981"/>
<rect x="1448" y="710.1" width="1" height="2.9" fill="#388e3c"/>
<rect x="1454" y="695.0" width="1" height="24.8" fill="#f23645"/>
<rect x="1453" y="699.1" width="3" height="18.0" fill="#f23645"/>
<rect x="1459" y="694.0" width="1" height="23.8" fill="#089981"/>
<rect x="1458" y="700.2" width="3" height="17.6" fill="#089981"/>
<rect x="1459" y="701.2" width="1" height="15.6" fill="#388e3c"/>
<rect x="1465" y="701.1" width="1" height="11.8" fill="#f23645"/>
<rect x="1464" y="704.2" width="3" height="4.9" fill="#f23645"/>
<rect x="1470" y="696.0" width="1" height="14.0" fill="#f23645"/>
<rect x="1469" y="709.1" width="3" height="1.0" fill="#f23645"/>
<rect x="1475" y="701.1" width="1" height="14.9" fill="#f23645"/>
<rect x="1474" y="704.9" width="3" height="7.2" fill="#f23645"/>
<rect x="1481" y="689.1" width="1" height="25.8" fill="#f23645"/>
<rect x="1480" y="709.8" width="3" height="1.1" fill="#f23645"/>
<rect x="1486" y="704.9" width="1" height="31.0" fill="#f23645"/>
<rect x="1485" y="707.1" width="3" height="21.9" fill="#f23645"/>
<rect x="1492" y="722.1" width="1" height="26.9" fill="#f23645"/>
<rect x="1491" y="724.1" width="3" height="19.8" fill="#f23645"/>
<rect x="1497" y="733.2" width="1" height="32.6" fill="#089981"/>
<rect x="1496" y="734.8" width="3" height="25.2" fill="#089981"/>
<rect x="1497" y="735.8" width="1" height="23.2" fill="#388e3c"/>
<rect x="1503" y="729.0" width="1" height="13.8" fill="#089981"/>
<rect x="1502" y="731.0" width="3" height="4.9" fill="#089981"/>
<rect x="1503" y="732.0" width="1" height="2.9" fill="#388e3c"/>
<rect x="1508" y="701.1" width="1" height="25.9" fill="#089981"/>
<rect x="1507" y="703.3" width="3" height="23.7" fill="#089981"/>
<rect x="1508" y="704.3" width="1" height="21.7" fill="#388e3c"/>
<rect x="1513" y="696.0" width="1" height="26.1" fill="#f23645"/>
<rect x="1512" y="702.2" width="3" height="18.8" fill="#f23645"/>
<rect x="1519" y="709.8" width="1" height="25.0" fill="#f23645"/>
<rect x="1518" y="718.0" width="3" height="16.8" fill="#f23645"/>
<rect x="1524" y="722.1" width="1" height="27.9" fill="#f23645"/>
<rect x="1523" y="730.1" width="3" height="7.6" fill="#f23645"/>
<rect x="1530" y="731.3" width="1" height="13.7" fill="#f23645"/>
<rect x="1529" y="733.1" width="3" height="11.1" fill="#f23645"/>
<rect x="1535" y="740.2" width="1" height="25.9" fill="#089981"/>
<rect x="1534" y="741.0" width="3" height="16.6" fill="#089981"/>
<rect x="1535" y="742.0" width="1" height="14.6" fill="#388e3c"/>
<rect x="1540" y="726.1" width="1" height="20.7" fill="#089981"/>
<rect x="1539" y="728.0" width="3" height="8.6" fill="#089981"/>
<rect x="1540" y="729.0" width="1" height="6.6" fill="#388e3c"/>
<rect x="1546" y="722.9" width="1" height="14.0" fill="#f23645"/>
<rect x="1545" y="728.0" width="3" height="5.7" fill="#f23645"/>
<rect x="1551" y="726.1" width="1" height="17.0" fill="#f23645"/>
<rect x="1550" y="731.3" width="3" height="7.7" fill="#f23645"/>
<rect x="1557" y="739.0" width="1" height="11.0" fill="#f23645"/>
<rect x="1556" y="741.0" width="3" height="4.0" fill="#f23645"/>
<rect x="1562" y="720.0" width="1" height="21.0" fill="#089981"/>
<rect x="1561" y="730.1" width="3" height="7.6" fill="#089981"/>
<rect x="1562" y="731.1" width="1" height="5.6" fill="#388e3c"/>
<rect x="1568" y="722.1" width="1" height="37.9" fill="#f23645"/>
<rect x="1567" y="725.0" width="3" height="18.9" fill="#f23645"/>
<rect x="1573" y="733.1" width="1" height="14.8" fill="#f23645"/>
<rect x="1572" y="741.0" width="3" height="1.0" fill="#f23645"/>
<rect x="1578" y="705.1" width="1" height="33.9" fill="#089981"/>
<rect x="1577" y="711.1" width="3" height="27.9" fill="#089981"/>
<rect x="1578" y="712.1" width="1" height="25.9" fill="#388e3c"/>
<rect x="1584" y="691.1" width="1" height="28.1" fill="#089981"/>
<rect x="1583" y="702.2" width="3" height="15.8" fill="#089981"/>
<rect x="1584" y="703.2" width="1" height="13.8" fill="#388e3c"/>
<rect x="1589" y="663.1" width="1" height="28.0" fill="#089981"/>
<rect x="1588" y="680.1" width="3" height="10.2" fill="#089981"/>
<rect x="1589" y="681.1" width="1" height="8.2" fill="#388e3c"/>
<rect x="1595" y="667.2" width="1" height="20.6" fill="#f23645"/>
<rect x="1594" y="671.2" width="3" height="9.7" fill="#f23645"/>
<rect x="1600" y="665.1" width="1" height="15.0" fill="#f23645"/>
<rect x="1599" y="678.0" width="3" height="1.0" fill="#f23645"/>
<rect x="1605" y="669.1" width="1" height="8.9" fill="#f23645"/>
<rect x="1604" y="674.1" width="3" height="2.0" fill="#f23645"/>
<rect x="1611" y="673.2" width="1" height="17.7" fill="#f23645"/>
<rect x="1610" y="678.0" width="3" height="12.9" fill="#f23645"/>
<rect x="1616" y="671.2" width="1" height="12.6" fill="#089981"/>
<rect x="1615" y="676.1" width="3" height="4.0" fill="#089981"/>
<rect x="1616" y="677.1" width="1" height="2.0" fill="#388e3c"/>
<rect x="1622" y="673.2" width="1" height="13.7" fill="#f23645"/>
<rect x="1621" y="675.3" width="3" height="4.8" fill="#f23645"/>
<rect x="1627" y="674.1" width="1" height="10.8" fill="#f23645"/>
<rect x="1626" y="676.9" width="3" height="5.1" fill="#f23645"/>
<rect x="1632" y="667.2" width="1" height="22.6" fill="#089981"/>
<rect x="1631" y="667.2" width="3" height="16.6" fill="#089981"/>
<rect x="1632" y="668.2" width="1" height="14.6" fill="#388e3c"/>
<rect x="1638" y="659.9" width="1" height="15.0" fill="#f23645"/>
<rect x="1637" y="666.1" width="3" height="7.1" fill="#f23645"/>
<rect x="1643" y="680.1" width="1" height="32.0" fill="#f23645"/>
<rect x="1642" y="684.1" width="3" height="19.9" fill="#f23645"/>
<rect x="1649" y="714.0" width="1" height="25.0" fill="#f23645"/>
<rect x="1648" y="716.1" width="3" height="6.8" fill="#f23645"/>
<rect x="1654" y="693.0" width="1" height="27.0" fill="#089981"/>
<rect x="1653" y="700.0" width="3" height="20.0" fill="#089981"/>
<rect x="1654" y="701.0" width="1" height="18.0" fill="#388e3c"/>
<rect x="1660" y="702.2" width="1" height="18.7" fill="#f23645"/>
<rect x="1659" y="710.0" width="3" height="6.1" fill="#f23645"/>
<rect x="1665" y="697.0" width="1" height="18.1" fill="#f23645"/>
<rect x="1664" y="705.9" width="3" height="3.3" fill="#f23645"/>
<rect x="1670" y="677.2" width="1" height="30.8" fill="#089981"/>
<rect x="1669" y="683.0" width="3" height="21.0" fill="#089981"/>
<rect x="1670" y="684.0" width="1" height="19.0" fill="#388e3c"/>
<rect x="1676" y="674.1" width="1" height="12.8" fill="#f23645"/>
<rect x="1675" y="679.0" width="3" height="3.0" fill="#f23645"/>
<rect x="1681" y="673.2" width="1" height="11.7" fill="#089981"/>
<rect x="1680" y="678.0" width="3" height="4.8" fill="#089981"/>
<rect x="1681" y="679.0" width="1" height="2.8" fill="#388e3c"/>
<rect x="1687" y="674.1" width="1" height="16.8" fill="#f23645"/>
<rect x="1686" y="680.9" width="3" height="8.1" fill="#f23645"/>
<rect x="1692" y="674.1" width="1" height="12.8" fill="#089981"/>
<rect x="1691" y="676.9" width="3" height="8.0" fill="#089981"/>
<rect x="1692" y="677.9" width="1" height="6.0" fill="#388e3c"/>
<rect x="1697" y="659.1" width="1" height="17.8" fill="#089981"/>
<rect x="1696" y="659.1" width="3" height="17.0" fill="#089981"/>
<rect x="1697" y="660.1" width="1" height="15.0" fill="#388e3c"/>
<rect x="1703" y="649.9" width="1" height="13.2" fill="#089981"/>
<rect x="1702" y="653.9" width="3" height="4.1" fill="#089981"/>
<rect x="1703" y="654.9" width="1" height="2.1" fill="#388e3c"/>
<rect x="1708" y="648.1" width="1" height="11.0" fill="#089981"/>
<rect x="1707" y="655.9" width="3" height="1.0" fill="#089981"/>
<rect x="1714" y="649.1" width="1" height="9.7" fill="#f23645"/>
<rect x="1713" y="655.9" width="3" height="2.9" fill="#f23645"/>
<rect x="1719" y="656.2" width="1" height="9.9" fill="#089981"/>
<rect x="1718" y="656.2" width="3" height="2.9" fill="#089981"/>
<rect x="1719" y="657.2" width="1" height="0.9" fill="#388e3c"/>
<rect x="1725" y="631.0" width="1" height="19.7" fill="#089981"/>
<rect x="1724" y="638.1" width="3" height="12.6" fill="#089981"/>
<rect x="1725" y="639.1" width="1" height="10.6" fill="#388e3c"/>
<rect x="1730" y="626.0" width="1" height="23.1" fill="#f23645"/>
<rect x="1729" y="629.2" width="3" height="8.6" fill="#f23645"/>
<rect x="1735" y="628.9" width="1" height="10.4" fill="#089981"/>
<rect x="1734" y="636.2" width="3" height="1.9" fill="#089981"/>
<rect x="1741" y="628.1" width="1" height="27.0" fill="#f23645"/>
<rect x="1740" y="631.0" width="3" height="24.1" fill="#f23645"/>
<rect x="1746" y="646.2" width="1" height="33.9" fill="#089981"/>
<rect x="1745" y="647.0" width="3" height="3.7" fill="#089981"/>
<rect x="1746" y="648.0" width="1" height="1.7" fill="#388e3c"/>
<rect x="1752" y="636.2" width="1" height="17.7" fill="#089981"/>
<rect x="1751" y="646.2" width="3" height="2.9" fill="#089981"/>
<rect x="1752" y="647.2" width="1" height="0.9" fill="#388e3c"/>
<rect x="1757" y="634.1" width="1" height="17.9" fill="#089981"/>
<rect x="1756" y="634.9" width="3" height="11.0" fill="#089981"/>
<rect x="1757" y="635.9" width="1" height="9.0" fill="#388e3c"/>
<rect x="1762" y="632.0" width="1" height="11.0" fill="#089981"/>
<rect x="1761" y="634.1" width="3" height="4.8" fill="#089981"/>
<rect x="1762" y="635.1" width="1" height="2.8" fill="#388e3c"/>
<rect x="1768" y="630.0" width="1" height="10.1" fill="#089981"/>
<rect x="1767" y="631.0" width="3" height="3.1" fill="#089981"/>
<rect x="1768" y="632.0" width="1" height="1.1" fill="#388e3c"/>
<rect x="1773" y="648.1" width="1" height="22.8" fill="#f23645"/>
<rect x="1772" y="655.1" width="3" height="5.6" fill="#f23645"/>
<rect x="1779" y="646.2" width="1" height="12.9" fill="#089981"/>
<rect x="1778" y="651.0" width="3" height="4.9" fill="#089981"/>
<rect x="1779" y="652.0" width="1" height="2.9" fill="#388e3c"/>
<rect x="1784" y="637.0" width="1" height="14.0" fill="#089981"/>
<rect x="1783" y="638.9" width="3" height="8.9" fill="#089981"/>
<rect x="1784" y="639.9" width="1" height="6.9" fill="#388e3c"/>
<rect x="1789" y="632.0" width="1" height="10.2" fill="#f23645"/>
<rect x="1788" y="636.0" width="3" height="1.8" fill="#f23645"/>
<rect x="1795" y="616.0" width="1" height="30.2" fill="#089981"/>
<rect x="1794" y="617.1" width="3" height="28.0" fill="#089981"/>
<rect x="1795" y="618.1" width="1" height="26.0" fill="#388e3c"/>
<rect x="1800" y="592.9" width="1" height="29.1" fill="#089981"/>
<rect x="1799" y="600.2" width="3" height="18.9" fill="#089981"/>
<rect x="1800" y="601.2" width="1" height="16.9" fill="#388e3c"/>
<rect x="1806" y="595.8" width="1" height="29.4" fill="#f23645"/>
<rect x="1805" y="604.2" width="3" height="10.8" fill="#f23645"/>
<rect x="1811" y="598.1" width="1" height="21.9" fill="#089981"/>
<rect x="1810" y="610.3" width="3" height="1.5" fill="#089981"/>
<rect x="1817" y="602.1" width="1" height="15.0" fill="#f23645"/>
<rect x="1816" y="610.3" width="3" height="6.8" fill="#f23645"/>
<rect x="1822" y="611.2" width="1" height="15.9" fill="#f23645"/>
<rect x="1821" y="613.2" width="3" height="3.9" fill="#f23645"/>
<rect x="1827" y="585.1" width="1" height="30.0" fill="#f23645"/>
<rect x="1826" y="595.2" width="3" height="16.0" fill="#f23645"/>
<rect x="1833" y="594.2" width="1" height="22.9" fill="#f23645"/>
<rect x="1832" y="607.4" width="3" height="4.8" fill="#f23645"/>
<rect x="1838" y="605.0" width="1" height="13.4" fill="#089981"/>
<rect x="1837" y="609.3" width="3" height="6.8" fill="#089981"/>
<rect x="1838" y="610.3" width="1" height="4.8" fill="#388e3c"/>
<rect x="1844" y="587.0" width="1" height="21.3" fill="#089981"/>
<rect x="1843" y="598.1" width="3" height="9.3" fill="#089981"/>
<rect x="1844" y="599.1" width="1" height="7.3" fill="#388e3c"/>
<rect x="1849" y="595.2" width="1" height="15.1" fill="#f23645"/>
<rect x="1848" y="595.2" width="3" height="12.2" fill="#f23645"/>
<rect x="1854" y="590.9" width="1" height="15.5" fill="#089981"/>
<rect x="1853" y="600.2" width="3" height="5.2" fill="#089981"/>
<rect x="1854" y="601.2" width="1" height="3.2" fill="#388e3c"/>
<rect x="1860" y="580.2" width="1" height="15.0" fill="#089981"/>
<rect x="1859" y="586.0" width="3" height="6.2" fill="#089981"/>
<rect x="1860" y="587.0" width="1" height="4.2" fill="#388e3c"/>
<rect x="1865" y="576.9" width="1" height="9.1" fill="#089981"/>
<rect x="1864" y="581.2" width="3" height="1.9" fill="#089981"/>
<rect x="1871" y="572.1" width="1" height="7.2" fill="#089981"/>
<rect x="1870" y="574.0" width="3" height="4.3" fill="#089981"/>
<rect x="1871" y="575.0" width="1" height="2.3" fill="#388e3c"/>
<rect x="1876" y="550.2" width="1" height="20.0" fill="#089981"/>
<rect x="1875" y="550.2" width="3" height="20.0" fill="#089981"/>
<rect x="1876" y="551.2" width="1" height="18.0" fill="#388e3c"/>
<rect x="1882" y="519.2" width="1" height="22.9" fill="#089981"/>
<rect x="1881" y="524.0" width="3" height="18.1" fill="#089981"/>
<rect x="1882" y="525.0" width="1" height="16.1" fill="#388e3c"/>
<rect x="1887" y="515.9" width="1" height="15.3" fill="#f23645"/>
<rect x="1886" y="515.9" width="3" height="13.9" fill="#f23645"/>
<rect x="1892" y="524.0" width="1" height="12.2" fill="#089981"/>
<rect x="1891" y="527.9" width="3" height="1.2" fill="#089981"/>
<rect x="1898" y="495.0" width="1" height="43.0" fill="#089981"/>
<rect x="1897" y="500.2" width="3" height="37.8" fill="#089981"/>
<rect x="1898" y="501.2" width="1" height="35.8" fill="#388e3c"/>
<rect x="1903" y="484.9" width="1" height="18.2" fill="#089981"/>
<rect x="1902" y="484.9" width="3" height="14.9" fill="#089981"/>
<rect x="1903" y="485.9" width="1" height="12.9" fill="#388e3c"/>
<rect x="1909" y="352.9" width="1" height="99.0" fill="#089981"/>
<rect x="1908" y="373.2" width="3" height="72.7" fill="#089981"/>
<rect x="1909" y="374.2" width="1" height="70.7" fill="#388e3c"/>
<rect x="1914" y="305.0" width="1" height="90.8" fill="#f23645"/>
<rect x="1913" y="373.2" width="3" height="6.3" fill="#f23645"/>
<rect x="1919" y="328.0" width="1" height="38.7" fill="#f23645"/>
<rect x="1918" y="358.7" width="3" height="2.0" fill="#f23645"/>
<rect x="1925" y="318.3" width="1" height="26.6" fill="#089981"/>
<rect x="1924" y="321.9" width="3" height="9.7" fill="#089981"/>
<rect x="1925" y="322.9" width="1" height="7.7" fill="#388e3c"/>
<rect x="1930" y="284.9" width="1" height="40.6" fill="#089981"/>
<rect x="1929" y="286.1" width="3" height="32.7" fill="#089981"/>
<rect x="1930" y="287.1" width="1" height="30.7" fill="#388e3c"/>
<rect x="1936" y="193.1" width="1" height="88.9" fill="#089981"/>
<rect x="1935" y="194.3" width="3" height="62.2" fill="#089981"/>
<rect x="1936" y="195.3" width="1" height="60.2" fill="#388e3c"/>
<rect x="1941" y="194.3" width="1" height="60.3" fill="#089981"/>
<rect x="1940" y="229.9" width="3" height="12.8" fill="#089981"/>
<rect x="1941" y="230.9" width="1" height="10.8" fill="#388e3c"/>
<rect x="1946" y="187.5" width="1" height="61.3" fill="#089981"/>
<rect x="1945" y="189.5" width="3" height="36.3" fill="#089981"/>
<rect x="1946" y="190.5" width="1" height="34.3" fill="#388e3c"/>
<rect x="1952" y="160.2" width="1" height="25.6" fill="#f23645"/>
<rect x="1951" y="168.9" width="3" height="6.0" fill="#f23645"/>
<rect x="1957" y="164.0" width="1" height="30.8" fill="#f23645"/>
<rect x="1956" y="174.9" width="3" height="7.1" fill="#f23645"/>
<rect x="1963" y="206.2" width="1" height="61.7" fill="#089981"/>
<rect x="1962" y="239.1" width="3" height="13.8" fill="#089981"/>
<rect x="1963" y="240.1" width="1" height="11.8" fill="#388e3c"/>
<rect x="1968" y="228.0" width="1" height="157.4" fill="#f23645"/>
<rect x="1967" y="228.0" width="3" height="146.7" fill="#f23645"/>
<rect x="1974" y="321.2" width="1" height="88.6" fill="#089981"/>
<rect x="1973" y="331.1" width="3" height="56.7" fill="#089981"/>
<rect x="1974" y="332.1" width="1" height="54.7" fill="#388e3c"/>
<rect x="1979" y="295.3" width="1" height="48.4" fill="#f23645"/>
<rect x="1978" y="297.2" width="3" height="38.8" fill="#f23645"/>
<rect x="1984" y="343.7" width="1" height="35.1" fill="#f23645"/>
<rect x="1983" y="351.0" width="3" height="14.5" fill="#f23645"/>
<rect x="1990" y="366.2" width="1" height="51.4" fill="#f23645"/>
<rect x="1989" y="380.0" width="3" height="4.9" fill="#f23645"/>
<rect x="1995" y="342.5" width="1" height="52.1" fill="#089981"/>
<rect x="1994" y="343.7" width="3" height="50.9" fill="#089981"/>
<rect x="1995" y="344.7" width="1" height="48.9" fill="#388e3c"/>
<rect x="2001" y="281.2" width="1" height="61.8" fill="#089981"/>
<rect x="2000" y="311.0" width="3" height="25.0" fill="#089981"/>
<rect x="2001" y="312.0" width="1" height="23.0" fill="#388e3c"/>
<rect x="2006" y="288.0" width="1" height="35.6" fill="#f23645"/>
<rect x="2005" y="294.1" width="3" height="10.9" fill="#f23645"/>
<rect x="2011" y="262.1" width="1" height="44.8" fill="#089981"/>
<rect x="2010" y="264.3" width="3" height="37.8" fill="#089981"/>
<rect x="2011" y="265.3" width="1" height="35.8" fill="#388e3c"/>
<rect x="2017" y="200.8" width="1" height="67.1" fill="#f23645"/>
<rect x="2016" y="239.1" width="3" height="7.0" fill="#f23645"/>
<rect x="2022" y="222.2" width="1" height="113.8" fill="#f23645"/>
<rect x="2021" y="234.0" width="3" height="57.6" fill="#f23645"/>
<rect x="2028" y="267.9" width="1" height="69.0" fill="#089981"/>
<rect x="2027" y="283.9" width="3" height="36.1" fill="#089981"/>
<rect x="2028" y="284.9" width="1" height="34.1" fill="#388e3c"/>
<rect x="2033" y="291.2" width="1" height="27.6" fill="#f23645"/>
<rect x="2032" y="300.1" width="3" height="18.7" fill="#f23645"/>
<rect x="2039" y="258.2" width="1" height="41.9" fill="#089981"/>
<rect x="2038" y="264.3" width="3" height="35.8" fill="#089981"/>
<rect x="2039" y="265.3" width="1" height="33.8" fill="#388e3c"/>
<rect x="2044" y="234.0" width="1" height="48.0" fill="#089981"/>
<rect x="2043" y="255.8" width="3" height="1.9" fill="#089981"/>
<rect x="2049" y="229.2" width="1" height="79.4" fill="#f23645"/>
<rect x="2048" y="241.3" width="3" height="64.9" fill="#f23645"/>
<rect x="2055" y="287.3" width="1" height="54.7" fill="#f23645"/>
<rect x="2054" y="301.3" width="3" height="14.6" fill="#f23645"/>
<rect x="2060" y="309.1" width="1" height="87.9" fill="#f23645"/>
<rect x="2059" y="315.1" width="3" height="68.6" fill="#f23645"/>
<rect x="2066" y="376.0" width="1" height="68.8" fill="#089981"/>
<rect x="2065" y="388.2" width="3" height="8.8" fill="#089981"/>
<rect x="2066" y="389.2" width="1" height="6.8" fill="#388e3c"/>
<rect x="2071" y="340.9" width="1" height="30.0" fill="#089981"/>
<rect x="2070" y="346.8" width="3" height="8.2" fill="#089981"/>
<rect x="2071" y="347.8" width="1" height="6.2" fill="#388e3c"/>
<rect x="2076" y="326.9" width="1" height="38.2" fill="#089981"/>
<rect x="2075" y="330.0" width="3" height="16.8" fill="#089981"/>
<rect x="2076" y="331.0" width="1" height="14.8" fill="#388e3c"/>
<rect x="2082" y="336.1" width="1" height="58.8" fill="#f23645"/>
<rect x="2081" y="337.8" width="3" height="57.1" fill="#f23645"/>
<rect x="2087" y="377.0" width="1" height="37.0" fill="#089981"/>
<rect x="2086" y="381.2" width="3" height="8.6" fill="#089981"/>
<rect x="2087" y="382.2" width="1" height="6.6" fill="#388e3c"/>
<rect x="2093" y="391.9" width="1" height="52.9" fill="#f23645"/>
<rect x="2092" y="395.9" width="3" height="35.3" fill="#f23645"/>
<rect x="2098" y="430.1" width="1" height="34.7" fill="#089981"/>
<rect x="2097" y="437.9" width="3" height="13.9" fill="#089981"/>
<rect x="2098" y="438.9" width="1" height="11.9" fill="#388e3c"/>
<rect x="2103" y="418.2" width="1" height="48.7" fill="#089981"/>
<rect x="2102" y="421.1" width="3" height="22.7" fill="#089981"/>
<rect x="2103" y="422.1" width="1" height="20.7" fill="#388e3c"/>
<rect x="2109" y="402.2" width="1" height="70.6" fill="#f23645"/>
<rect x="2108" y="402.9" width="3" height="66.1" fill="#f23645"/>
<rect x="2114" y="436.0" width="1" height="49.8" fill="#089981"/>
<rect x="2113" y="462.7" width="3" height="17.8" fill="#089981"/>
<rect x="2114" y="463.7" width="1" height="15.8" fill="#388e3c"/>
<rect x="2120" y="473.2" width="1" height="27.7" fill="#f23645"/>
<rect x="2119" y="484.1" width="3" height="12.2" fill="#f23645"/>
<rect x="2125" y="456.0" width="1" height="51.8" fill="#089981"/>
<rect x="2124" y="457.0" width="3" height="21.8" fill="#089981"/>
<rect x="2125" y="458.0" width="1" height="19.8" fill="#388e3c"/>
<rect x="2131" y="382.3" width="1" height="56.7" fill="#089981"/>
<rect x="2130" y="389.2" width="3" height="42.6" fill="#089981"/>
<rect x="2131" y="390.2" width="1" height="40.6" fill="#388e3c"/>
<rect x="2136" y="326.2" width="1" height="73.9" fill="#089981"/>
<rect x="2135" y="332.1" width="3" height="59.8" fill="#089981"/>
<rect x="2136" y="333.1" width="1" height="57.8" fill="#388e3c"/>
<rect x="2141" y="283.2" width="1" height="45.3" fill="#089981"/>
<rect x="2140" y="306.2" width="3" height="21.0" fill="#089981"/>
<rect x="2141" y="307.2" width="1" height="19.0" fill="#388e3c"/>
<rect x="2147" y="281.2" width="1" height="40.0" fill="#f23645"/>
<rect x="2146" y="291.2" width="3" height="20.5" fill="#f23645"/>
<rect x="2152" y="296.0" width="1" height="39.2" fill="#f23645"/>
<rect x="2151" y="301.3" width="3" height="12.6" fill="#f23645"/>
<rect x="2158" y="304.2" width="1" height="41.4" fill="#089981"/>
<rect x="2157" y="329.2" width="3" height="9.7" fill="#089981"/>
<rect x="2158" y="330.2" width="1" height="7.7" fill="#388e3c"/>
<rect x="2163" y="317.1" width="1" height="27.1" fill="#f23645"/>
<rect x="2162" y="326.0" width="3" height="17.0" fill="#f23645"/>
<rect x="2168" y="201.6" width="1" height="63.4" fill="#089981"/>
<rect x="2167" y="203.3" width="3" height="51.3" fill="#089981"/>
<rect x="2168" y="204.3" width="1" height="49.3" fill="#388e3c"/>
<rect x="2174" y="195.3" width="1" height="82.5" fill="#f23645"/>
<rect x="2173" y="213.0" width="3" height="39.9" fill="#f23645"/>
<rect x="2179" y="232.3" width="1" height="85.5" fill="#f23645"/>
<rect x="2178" y="254.8" width="3" height="57.9" fill="#f23645"/>
<rect x="2185" y="312.2" width="1" height="64.8" fill="#f23645"/>
<rect x="2184" y="321.6" width="3" height="13.0" fill="#f23645"/>
<rect x="2190" y="318.9" width="1" height="68.8" fill="#f23645"/>
<rect x="2189" y="318.9" width="3" height="53.1" fill="#f23645"/>
<rect x="2196" y="339.9" width="1" height="77.0" fill="#089981"/>
<rect x="2195" y="340.9" width="3" height="56.7" fill="#089981"/>
<rect x="2196" y="341.9" width="1" height="54.7" fill="#388e3c"/>
<rect x="2201" y="323.1" width="1" height="35.7" fill="#089981"/>
<rect x="2200" y="335.1" width="3" height="10.7" fill="#089981"/>
<rect x="2201" y="336.1" width="1" height="8.7" fill="#388e3c"/>
<rect x="2206" y="286.0" width="1" height="40.8" fill="#089981"/>
<rect x="2205" y="294.0" width="3" height="27.8" fill="#089981"/>
<rect x="2206" y="295.0" width="1" height="25.8" fill="#388e3c"/>
<rect x="2212" y="285.0" width="1" height="85.9" fill="#f23645"/>
<rect x="2211" y="291.1" width="3" height="76.7" fill="#f23645"/>
<rect x="2217" y="347.2" width="1" height="36.8" fill="#089981"/>
<rect x="2216" y="348.9" width="3" height="29.8" fill="#089981"/>
<rect x="2217" y="349.9" width="1" height="27.8" fill="#388e3c"/>
<rect x="2223" y="327.9" width="1" height="54.0" fill="#089981"/>
<rect x="2222" y="367.8" width="3" height="4.2" fill="#089981"/>
<rect x="2223" y="368.8" width="1" height="2.2" fill="#388e3c"/>
<rect x="2228" y="344.1" width="1" height="57.7" fill="#f23645"/>
<rect x="2227" y="357.1" width="3" height="44.7" fill="#f23645"/>
<rect x="2233" y="357.1" width="1" height="45.8" fill="#f23645"/>
<rect x="2232" y="388.2" width="3" height="14.0" fill="#f23645"/>
<rect x="2239" y="393.4" width="1" height="61.5" fill="#f23645"/>
<rect x="2238" y="401.2" width="3" height="52.0" fill="#f23645"/>
<rect x="2244" y="462.0" width="1" height="80.2" fill="#089981"/>
<rect x="2243" y="465.2" width="3" height="25.8" fill="#089981"/>
<rect x="2244" y="466.2" width="1" height="23.8" fill="#388e3c"/>
<rect x="2250" y="445.2" width="1" height="45.8" fill="#089981"/>
<rect x="2249" y="477.4" width="3" height="4.6" fill="#089981"/>
<rect x="2250" y="478.4" width="1" height="2.6" fill="#388e3c"/>
<rect x="2255" y="409.1" width="1" height="79.8" fill="#f23645"/>
<rect x="2254" y="444.2" width="3" height="14.7" fill="#f23645"/>
<rect x="2260" y="459.9" width="1" height="103.9" fill="#f23645"/>
<rect x="2259" y="461.6" width="3" height="102.2" fill="#f23645"/>
<rect x="2266" y="535.9" width="1" height="64.0" fill="#089981"/>
<rect x="2265" y="547.1" width="3" height="14.6" fill="#089981"/>
<rect x="2266" y="548.1" width="1" height="12.6" fill="#388e3c"/>
<rect x="2271" y="458.3" width="1" height="72.6" fill="#089981"/>
<rect x="2270" y="458.9" width="3" height="63.0" fill="#089981"/>
<rect x="2271" y="459.9" width="1" height="61.0" fill="#388e3c"/>
<rect x="2277" y="452.0" width="1" height="38.0" fill="#f23645"/>
<rect x="2276" y="459.9" width="3" height="5.3" fill="#f23645"/>
<rect x="2282" y="464.1" width="1" height="41.0" fill="#f23645"/>
<rect x="2281" y="466.9" width="3" height="23.1" fill="#f23645"/>
<rect x="2288" y="458.9" width="1" height="53.9" fill="#089981"/>
<rect x="2287" y="503.0" width="3" height="9.8" fill="#089981"/>
<rect x="2288" y="504.0" width="1" height="7.8" fill="#388e3c"/>
<rect x="2293" y="458.9" width="1" height="53.9" fill="#089981"/>
<rect x="2292" y="471.9" width="3" height="25.8" fill="#089981"/>
<rect x="2293" y="472.9" width="1" height="23.8" fill="#388e3c"/>
<rect x="2298" y="448.0" width="1" height="43.8" fill="#f23645"/>
<rect x="2297" y="470.9" width="3" height="17.0" fill="#f23645"/>
<rect x="2304" y="469.0" width="1" height="30.8" fill="#089981"/>
<rect x="2303" y="473.0" width="3" height="17.0" fill="#089981"/>
<rect x="2304" y="474.0" width="1" height="15.0" fill="#388e3c"/>
<rect x="2309" y="449.9" width="1" height="25.2" fill="#f23645"/>
<rect x="2308" y="459.9" width="3" height="4.2" fill="#f23645"/>
<rect x="2315" y="452.0" width="1" height="45.7" fill="#f23645"/>
<rect x="2314" y="486.2" width="3" height="4.8" fill="#f23645"/>
<rect x="2320" y="478.8" width="1" height="63.0" fill="#f23645"/>
<rect x="2319" y="484.7" width="3" height="49.1" fill="#f23645"/>
<rect x="2325" y="496.0" width="1" height="44.1" fill="#089981"/>
<rect x="2324" y="518.1" width="3" height="14.7" fill="#089981"/>
<rect x="2325" y="519.1" width="1" height="12.7" fill="#388e3c"/>
<rect x="2331" y="471.9" width="1" height="29.0" fill="#089981"/>
<rect x="2330" y="473.0" width="3" height="23.0" fill="#089981"/>
<rect x="2331" y="474.0" width="1" height="21.0" fill="#388e3c"/>
<rect x="2336" y="469.0" width="1" height="23.9" fill="#089981"/>
<rect x="2335" y="471.9" width="3" height="10.1" fill="#089981"/>
<rect x="2336" y="472.9" width="1" height="8.1" fill="#388e3c"/>
<rect x="2342" y="477.2" width="1" height="43.0" fill="#f23645"/>
<rect x="2341" y="482.0" width="3" height="37.3" fill="#f23645"/>
<rect x="2347" y="507.2" width="1" height="47.8" fill="#f23645"/>
<rect x="2346" y="507.8" width="3" height="29.2" fill="#f23645"/>
<rect x="2353" y="537.0" width="1" height="53.7" fill="#f23645"/>
<rect x="2352" y="559.0" width="3" height="13.2" fill="#f23645"/>
<rect x="2358" y="557.1" width="1" height="72.9" fill="#f23645"/>
<rect x="2357" y="562.2" width="3" height="66.1" fill="#f23645"/>
<rect x="2363" y="589.0" width="1" height="100.8" fill="#089981"/>
<rect x="2362" y="591.1" width="3" height="98.7" fill="#089981"/>
<rect x="2363" y="592.1" width="1" height="96.7" fill="#388e3c"/>
<rect x="2369" y="572.9" width="1" height="36.1" fill="#089981"/>
<rect x="2368" y="582.1" width="3" height="2.1" fill="#089981"/>
<rect x="2374" y="517.0" width="1" height="60.9" fill="#089981"/>
<rect x="2373" y="522.9" width="3" height="55.0" fill="#089981"/>
<rect x="2374" y="523.9" width="1" height="53.0" fill="#388e3c"/>
<rect x="2380" y="504.0" width="1" height="35.1" fill="#f23645"/>
<rect x="2379" y="524.0" width="3" height="5.8" fill="#f23645"/>
<rect x="2385" y="508.2" width="1" height="41.0" fill="#089981"/>
<rect x="2384" y="513.9" width="3" height="9.0" fill="#089981"/>
<rect x="2385" y="514.9" width="1" height="7.0" fill="#388e3c"/>
<rect x="2390" y="508.2" width="1" height="51.9" fill="#f23645"/>
<rect x="2389" y="514.9" width="3" height="40.1" fill="#f23645"/>
<rect x="2396" y="538.0" width="1" height="29.0" fill="#f23645"/>
<rect x="2395" y="543.9" width="3" height="12.2" fill="#f23645"/>
<rect x="2401" y="527.1" width="1" height="60.9" fill="#f23645"/>
<rect x="2400" y="537.0" width="3" height="51.0" fill="#f23645"/>
<rect x="2407" y="542.9" width="1" height="66.1" fill="#089981"/>
<rect x="2406" y="568.0" width="3" height="29.0" fill="#089981"/>
<rect x="2407" y="569.0" width="1" height="27.0" fill="#388e3c"/>
<rect x="2412" y="533.0" width="1" height="28.1" fill="#089981"/>
<rect x="2411" y="534.0" width="3" height="20.0" fill="#089981"/>
<rect x="2412" y="535.0" width="1" height="18.0" fill="#388e3c"/>
<rect x="2417" y="539.1" width="1" height="43.0" fill="#f23645"/>
<rect x="2416" y="542.2" width="3" height="13.9" fill="#f23645"/>
<rect x="2423" y="549.2" width="1" height="48.7" fill="#f23645"/>
<rect x="2422" y="552.9" width="3" height="44.1" fill="#f23645"/>
<rect x="2428" y="591.1" width="1" height="44.1" fill="#f23645"/>
<rect x="2427" y="611.1" width="3" height="15.1" fill="#f23645"/>
<rect x="2434" y="586.3" width="1" height="47.9" fill="#089981"/>
<rect x="2433" y="590.1" width="3" height="26.9" fill="#089981"/>
<rect x="2434" y="591.1" width="1" height="24.9" fill="#388e3c"/>
<rect x="2439" y="551.3" width="1" height="38.8" fill="#089981"/>
<rect x="2438" y="552.9" width="3" height="31.3" fill="#089981"/>
<rect x="2439" y="553.9" width="1" height="29.3" fill="#388e3c"/>
<rect x="2445" y="519.3" width="1" height="47.7" fill="#089981"/>
<rect x="2444" y="521.9" width="3" height="41.3" fill="#089981"/>
<rect x="2445" y="522.9" width="1" height="39.3" fill="#388e3c"/>
<rect x="2450" y="487.2" width="1" height="38.9" fill="#089981"/>
<rect x="2449" y="488.9" width="3" height="30.9" fill="#089981"/>
<rect x="2450" y="489.9" width="1" height="28.9" fill="#388e3c"/>
<rect x="2455" y="453.0" width="1" height="34.9" fill="#089981"/>
<rect x="2454" y="474.0" width="3" height="6.9" fill="#089981"/>
<rect x="2455" y="475.0" width="1" height="4.9" fill="#388e3c"/>
<rect x="2461" y="399.0" width="1" height="74.0" fill="#089981"/>
<rect x="2460" y="403.0" width="3" height="62.8" fill="#089981"/>
<rect x="2461" y="404.0" width="1" height="60.8" fill="#388e3c"/>
<rect x="2466" y="358.1" width="1" height="61.8" fill="#089981"/>
<rect x="2465" y="398.0" width="3" height="19.9" fill="#089981"/>
<rect x="2466" y="399.0" width="1" height="17.9" fill="#388e3c"/>
<rect x="2472" y="373.0" width="1" height="34.9" fill="#089981"/>
<rect x="2471" y="384.1" width="3" height="5.0" fill="#089981"/>
<rect x="2472" y="385.1" width="1" height="3.0" fill="#388e3c"/>
<rect x="2477" y="376.1" width="1" height="23.8" fill="#089981"/>
<rect x="2476" y="386.9" width="3" height="3.1" fill="#089981"/>
<rect x="2477" y="387.9" width="1" height="1.1" fill="#388e3c"/>
<rect x="2482" y="302.0" width="1" height="43.1" fill="#089981"/>
<rect x="2481" y="308.0" width="3" height="26.9" fill="#089981"/>
<rect x="2482" y="309.0" width="1" height="24.9" fill="#388e3c"/>
<rect x="2488" y="285.7" width="1" height="40.3" fill="#f23645"/>
<rect x="2487" y="292.2" width="3" height="8.7" fill="#f23645"/>
<rect x="2493" y="285.7" width="1" height="30.3" fill="#089981"/>
<rect x="2492" y="306.1" width="3" height="3.7" fill="#089981"/>
<rect x="2493" y="307.1" width="1" height="1.7" fill="#388e3c"/>
<rect x="2499" y="297.2" width="1" height="25.6" fill="#f23645"/>
<rect x="2498" y="304.8" width="3" height="18.0" fill="#f23645"/>
<rect x="2504" y="304.8" width="1" height="26.9" fill="#089981"/>
<rect x="2503" y="315.0" width="3" height="3.7" fill="#089981"/>
<rect x="2504" y="316.0" width="1" height="1.7" fill="#388e3c"/>
<rect x="2510" y="251.0" width="1" height="75.9" fill="#089981"/>
<rect x="2509" y="256.0" width="3" height="54.8" fill="#089981"/>
<rect x="2510" y="257.0" width="1" height="52.8" fill="#388e3c"/>
<rect x="2515" y="248.9" width="1" height="62.8" fill="#f23645"/>
<rect x="2514" y="264.9" width="3" height="44.0" fill="#f23645"/>
<rect x="2520" y="320.0" width="1" height="49.8" fill="#f23645"/>
<rect x="2519" y="326.0" width="3" height="27.8" fill="#f23645"/>
<rect x="2526" y="322.8" width="1" height="53.3" fill="#089981"/>
<rect x="2525" y="342.0" width="3" height="5.0" fill="#089981"/>
<rect x="2526" y="343.0" width="1" height="3.0" fill="#388e3c"/>
<rect x="2531" y="350.1" width="1" height="24.7" fill="#f23645"/>
<rect x="2530" y="355.0" width="3" height="18.0" fill="#f23645"/>
<rect x="2537" y="389.1" width="1" height="32.7" fill="#f23645"/>
<rect x="2536" y="416.0" width="3" height="5.8" fill="#f23645"/>
<rect x="2542" y="377.0" width="1" height="42.9" fill="#f23645"/>
<rect x="2541" y="399.9" width="3" height="10.8" fill="#f23645"/>
<rect x="2547" y="372.0" width="1" height="50.7" fill="#089981"/>
<rect x="2546" y="375.2" width="3" height="41.4" fill="#089981"/>
<rect x="2547" y="376.2" width="1" height="39.4" fill="#388e3c"/>
<rect x="2553" y="385.0" width="1" height="30.1" fill="#f23645"/>
<rect x="2552" y="398.0" width="3" height="14.9" fill="#f23645"/>
<rect x="2558" y="383.2" width="1" height="39.5" fill="#089981"/>
<rect x="2557" y="393.0" width="3" height="15.8" fill="#089981"/>
<rect x="2558" y="394.0" width="1" height="13.8" fill="#388e3c"/>
<rect x="2564" y="363.1" width="1" height="38.6" fill="#089981"/>
<rect x="2563" y="370.2" width="3" height="22.8" fill="#089981"/>
<rect x="2564" y="371.2" width="1" height="20.8" fill="#388e3c"/>
<rect x="2569" y="364.1" width="1" height="56.8" fill="#f23645"/>
<rect x="2568" y="368.0" width="3" height="51.9" fill="#f23645"/>
<rect x="2574" y="308.0" width="1" height="92.8" fill="#f23645"/>
<rect x="2573" y="325.1" width="3" height="64.6" fill="#f23645"/>
<rect x="2580" y="363.1" width="1" height="39.9" fill="#f23645"/>
<rect x="2579" y="383.2" width="3" height="9.8" fill="#f23645"/>
<rect x="2585" y="389.1" width="1" height="31.8" fill="#089981"/>
<rect x="2584" y="399.0" width="3" height="19.8" fill="#089981"/>
<rect x="2585" y="400.0" width="1" height="17.8" fill="#388e3c"/>
<rect x="2591" y="397.3" width="1" height="121.5" fill="#f23645"/>
<rect x="2590" y="401.8" width="3" height="116.2" fill="#f23645"/>
<rect x="2596" y="477.2" width="1" height="39.9" fill="#f23645"/>
<rect x="2595" y="495.7" width="3" height="18.3" fill="#f23645"/>
<rect x="2602" y="494.9" width="1" height="75.9" fill="#f23645"/>
<rect x="2601" y="494.9" width="3" height="22.2" fill="#f23645"/>
<rect x="2607" y="461.0" width="1" height="63.0" fill="#f23645"/>
<rect x="2606" y="492.0" width="3" height="32.0" fill="#f23645"/>
<rect x="2612" y="488.0" width="1" height="57.0" fill="#089981"/>
<rect x="2611" y="492.0" width="3" height="41.7" fill="#089981"/>
<rect x="2612" y="493.0" width="1" height="39.7" fill="#388e3c"/>
<rect x="2618" y="471.0" width="1" height="34.8" fill="#089981"/>
<rect x="2617" y="486.1" width="3" height="5.9" fill="#089981"/>
<rect x="2618" y="487.1" width="1" height="3.9" fill="#388e3c"/>
<rect x="2623" y="441.2" width="1" height="67.8" fill="#089981"/>
<rect x="2622" y="443.0" width="3" height="49.0" fill="#089981"/>
<rect x="2623" y="444.0" width="1" height="47.0" fill="#388e3c"/>
<rect x="2629" y="450.2" width="1" height="85.6" fill="#f23645"/>
<rect x="2628" y="455.9" width="3" height="66.0" fill="#f23645"/>
<rect x="2634" y="505.9" width="1" height="43.9" fill="#f23645"/>
<rect x="2633" y="507.0" width="3" height="21.8" fill="#f23645"/>
<rect x="2639" y="547.1" width="1" height="63.1" fill="#f23645"/>
<rect x="2638" y="556.0" width="3" height="49.1" fill="#f23645"/>
<rect x="2645" y="567.3" width="1" height="49.7" fill="#f23645"/>
<rect x="2644" y="572.9" width="3" height="20.0" fill="#f23645"/>
<rect x="2650" y="581.9" width="1" height="81.0" fill="#f23645"/>
<rect x="2649" y="597.1" width="3" height="59.8" fill="#f23645"/>
<rect x="2656" y="631.0" width="1" height="78.0" fill="#089981"/>
<rect x="2655" y="662.0" width="3" height="26.6" fill="#089981"/>
<rect x="2656" y="663.0" width="1" height="24.6" fill="#388e3c"/>
<rect x="2661" y="603.9" width="1" height="35.1" fill="#f23645"/>
<rect x="2660" y="618.0" width="3" height="4.0" fill="#f23645"/>
<rect x="2667" y="620.8" width="1" height="50.0" fill="#f23645"/>
<rect x="2666" y="623.9" width="3" height="42.2" fill="#f23645"/>
<rect x="2672" y="625.9" width="1" height="35.1" fill="#089981"/>
<rect x="2671" y="629.0" width="3" height="15.1" fill="#089981"/>
<rect x="2672" y="630.0" width="1" height="13.1" fill="#388e3c"/>
<rect x="2677" y="629.8" width="1" height="58.3" fill="#f23645"/>
<rect x="2676" y="645.9" width="3" height="35.1" fill="#f23645"/>
<rect x="2683" y="656.1" width="1" height="39.0" fill="#089981"/>
<rect x="2682" y="680.2" width="3" height="2.9" fill="#089981"/>
<rect x="2683" y="681.2" width="1" height="0.9" fill="#388e3c"/>
<rect x="2688" y="668.0" width="1" height="85.9" fill="#f23645"/>
<rect x="2687" y="675.1" width="3" height="50.0" fill="#f23645"/>
<rect x="2694" y="709.0" width="1" height="39.8" fill="#089981"/>
<rect x="2693" y="712.9" width="3" height="21.0" fill="#089981"/>
<rect x="2694" y="713.9" width="1" height="19.0" fill="#388e3c"/>
<rect x="2699" y="733.9" width="1" height="32.2" fill="#f23645"/>
<rect x="2698" y="733.9" width="3" height="25.9" fill="#f23645"/>
<rect x="2704" y="719.2" width="1" height="44.5" fill="#089981"/>
<rect x="2703" y="729.0" width="3" height="34.7" fill="#089981"/>
<rect x="2704" y="730.0" width="1" height="32.7" fill="#388e3c"/>
<rect x="2710" y="671.2" width="1" height="62.7" fill="#089981"/>
<rect x="2709" y="681.9" width="3" height="46.1" fill="#089981"/>
<rect x="2710" y="682.9" width="1" height="44.1" fill="#388e3c"/>
<rect x="2715" y="631.0" width="1" height="37.8" fill="#089981"/>
<rect x="2714" y="631.0" width="3" height="35.6" fill="#089981"/>
<rect x="2715" y="632.0" width="1" height="33.6" fill="#388e3c"/>
</g>
<g stroke="#e0314f" stroke-width="4.7" stroke-linecap="round"><path d="M1860.5 146.5 L1892 178"/><path d="M1892 146.5 L1860.5 178"/></g>
<path d="M1303 642 H1314.2 V652 H1319.2 L1308.6 664.2 L1298 652 H1303 Z" fill="#cc2f3c"/>
<text transform="translate(1511.27,439.9) scale(0.3653,0.3600)" font-size="100" font-weight="700" fill="#4caf50">+</text>
<text transform="translate(1536.99,439.9) scale(0.2559,0.4190)" font-size="100" font-weight="700" fill="#4caf50">1</text>
<text transform="translate(1558.16,439.9) scale(0.4116,0.4140)" font-size="100" font-weight="700" fill="#4caf50">2</text>
<text transform="translate(1581.02,439.9) scale(0.4371,0.4190)" font-size="100" font-weight="700" fill="#4caf50">7</text>
<text transform="translate(1603.41,439.9) scale(0.3150,0.4160)" font-size="100" font-weight="700" fill="#4caf50">%</text>
<text x="10.0" y="19.0" font-size="12.4" font-weight="400" fill="#c4c7d2" text-anchor="start" textLength="400.0" lengthAdjust="spacingAndGlyphs">brainyPlayer7978 a publié sur TradingView.com, Mai 11, 2023 09:22 UTC+2</text>
<text x="18.0" y="46.2" font-size="12.2" font-weight="400" fill="#ffffff" text-anchor="start" textLength="127.9" lengthAdjust="spacingAndGlyphs" stroke="#fff" stroke-width="0.3">Tesla, Inc., 1D, NASDAQ</text>
<text x="153.2" y="46.2" font-size="12.2" font-weight="400" fill="#ffffff" text-anchor="start" textLength="8.2" lengthAdjust="spacingAndGlyphs">O</text>
<text x="162.0" y="46.2" font-size="12.2" font-weight="400" fill="#f23645" text-anchor="start" textLength="35.0" lengthAdjust="spacingAndGlyphs">172.55</text>
<text x="204.3" y="46.2" font-size="12.2" font-weight="400" fill="#ffffff" text-anchor="start" textLength="8.0" lengthAdjust="spacingAndGlyphs">H</text>
<text x="212.8" y="46.2" font-size="12.2" font-weight="400" fill="#f23645" text-anchor="start" textLength="34.5" lengthAdjust="spacingAndGlyphs">174.43</text>
<text x="255.0" y="46.2" font-size="12.2" font-weight="400" fill="#ffffff" text-anchor="start" textLength="7.2" lengthAdjust="spacingAndGlyphs">B</text>
<text x="263.0" y="46.2" font-size="12.2" font-weight="400" fill="#f23645" text-anchor="start" textLength="34.2" lengthAdjust="spacingAndGlyphs">166.68</text>
<text x="304.8" y="46.2" font-size="12.2" font-weight="400" fill="#ffffff" text-anchor="start" textLength="7.8" lengthAdjust="spacingAndGlyphs">C</text>
<text x="313.5" y="46.2" font-size="12.2" font-weight="400" fill="#f23645" text-anchor="start" textLength="34.4" lengthAdjust="spacingAndGlyphs">168.54</text>
<text x="355.5" y="46.2" font-size="12.2" font-weight="400" fill="#f23645" text-anchor="start" textLength="78.0" lengthAdjust="spacingAndGlyphs">−0.61 (−0.36%)</text>
<text x="2725.5" y="44.8" font-size="12" font-weight="400" fill="#ffffff" text-anchor="start" textLength="20.5" lengthAdjust="spacingAndGlyphs" stroke="#fff" stroke-width="0.25">USD</text>
<text x="2724.0" y="90.7" font-size="12.3" font-weight="400" fill="#ffffff" text-anchor="start" textLength="36.3" lengthAdjust="spacingAndGlyphs" stroke="#fff" stroke-width="0.3">440.00</text>
<text x="2724.0" y="149.1" font-size="12.3" font-weight="400" fill="#ffffff" text-anchor="start" textLength="36.3" lengthAdjust="spacingAndGlyphs" stroke="#fff" stroke-width="0.3">420.00</text>
<text x="2724.0" y="207.4" font-size="12.3" font-weight="400" fill="#ffffff" text-anchor="start" textLength="36.3" lengthAdjust="spacingAndGlyphs" stroke="#fff" stroke-width="0.3">400.00</text>
<text x="2724.0" y="265.8" font-size="12.3" font-weight="400" fill="#ffffff" text-anchor="start" textLength="36.3" lengthAdjust="spacingAndGlyphs" stroke="#fff" stroke-width="0.3">380.00</text>
<text x="2724.0" y="324.2" font-size="12.3" font-weight="400" fill="#ffffff" text-anchor="start" textLength="36.3" lengthAdjust="spacingAndGlyphs" stroke="#fff" stroke-width="0.3">360.00</text>
<text x="2724.0" y="382.5" font-size="12.3" font-weight="400" fill="#ffffff" text-anchor="start" textLength="36.3" lengthAdjust="spacingAndGlyphs" stroke="#fff" stroke-width="0.3">340.00</text>
<text x="2724.0" y="440.9" font-size="12.3" font-weight="400" fill="#ffffff" text-anchor="start" textLength="36.3" lengthAdjust="spacingAndGlyphs" stroke="#fff" stroke-width="0.3">320.00</text>
<text x="2724.0" y="499.3" font-size="12.3" font-weight="400" fill="#ffffff" text-anchor="start" textLength="36.3" lengthAdjust="spacingAndGlyphs" stroke="#fff" stroke-width="0.3">300.00</text>
<text x="2724.0" y="557.7" font-size="12.3" font-weight="400" fill="#ffffff" text-anchor="start" textLength="36.3" lengthAdjust="spacingAndGlyphs" stroke="#fff" stroke-width="0.3">280.00</text>
<text x="2724.0" y="616.0" font-size="12.3" font-weight="400" fill="#ffffff" text-anchor="start" textLength="36.3" lengthAdjust="spacingAndGlyphs" stroke="#fff" stroke-width="0.3">260.00</text>
<text x="2724.0" y="674.4" font-size="12.3" font-weight="400" fill="#ffffff" text-anchor="start" textLength="36.3" lengthAdjust="spacingAndGlyphs" stroke="#fff" stroke-width="0.3">240.00</text>
<text x="2724.0" y="732.8" font-size="12.3" font-weight="400" fill="#ffffff" text-anchor="start" textLength="36.3" lengthAdjust="spacingAndGlyphs" stroke="#fff" stroke-width="0.3">220.00</text>
<text x="2724.0" y="791.1" font-size="12.3" font-weight="400" fill="#ffffff" text-anchor="start" textLength="36.3" lengthAdjust="spacingAndGlyphs" stroke="#fff" stroke-width="0.3">200.00</text>
<text x="2724.0" y="849.5" font-size="12.3" font-weight="400" fill="#ffffff" text-anchor="start" textLength="36.3" lengthAdjust="spacingAndGlyphs" stroke="#fff" stroke-width="0.3">180.00</text>
<text x="2724.0" y="907.9" font-size="12.3" font-weight="400" fill="#ffffff" text-anchor="start" textLength="36.3" lengthAdjust="spacingAndGlyphs" stroke="#fff" stroke-width="0.3">160.00</text>
<text x="2724.0" y="966.2" font-size="12.3" font-weight="400" fill="#ffffff" text-anchor="start" textLength="36.3" lengthAdjust="spacingAndGlyphs" stroke="#fff" stroke-width="0.3">140.00</text>
<text x="2724.0" y="1024.6" font-size="12.3" font-weight="400" fill="#ffffff" text-anchor="start" textLength="36.3" lengthAdjust="spacingAndGlyphs" stroke="#fff" stroke-width="0.3">120.00</text>
<text x="2724.0" y="1083.0" font-size="12.3" font-weight="400" fill="#ffffff" text-anchor="start" textLength="36.3" lengthAdjust="spacingAndGlyphs" stroke="#fff" stroke-width="0.3">100.00</text>
<text x="2724.0" y="1141.4" font-size="12.3" font-weight="400" fill="#ffffff" text-anchor="start" textLength="30.0" lengthAdjust="spacingAndGlyphs" stroke="#fff" stroke-width="0.3">80.00</text>
<text x="2724.0" y="1199.7" font-size="12.3" font-weight="400" fill="#ffffff" text-anchor="start" textLength="30.0" lengthAdjust="spacingAndGlyphs" stroke="#fff" stroke-width="0.3">60.00</text>
<text x="2724.0" y="1258.1" font-size="12.3" font-weight="400" fill="#ffffff" text-anchor="start" textLength="30.0" lengthAdjust="spacingAndGlyphs" stroke="#fff" stroke-width="0.3">40.00</text>
<rect x="2716.5" y="623.5" width="48.3" height="16" rx="2" fill="#000" stroke="#388e3c" stroke-width="1"/>
<text x="2724.0" y="636.0" font-size="12.3" font-weight="400" fill="#388e3c" text-anchor="start" textLength="35.0" lengthAdjust="spacingAndGlyphs">253.21</text>
<rect x="2680" y="870" width="35" height="17" rx="1.5" fill="#f23645"/>
<rect x="2716" y="870" width="49" height="17" rx="1.5" fill="#f23645"/>
<text x="2685.0" y="883.0" font-size="12" font-weight="400" fill="#ffffff" text-anchor="start" textLength="25.5" lengthAdjust="spacingAndGlyphs">TSLA</text>
<text x="2724.5" y="883.0" font-size="12.3" font-weight="400" fill="#ffffff" text-anchor="start" textLength="35.0" lengthAdjust="spacingAndGlyphs">168.54</text>
<rect x="2716.5" y="1230.5" width="57" height="16" rx="2" fill="#000" stroke="#26a69a" stroke-width="1"/>
<text x="2724.0" y="1242.7" font-size="12.3" font-weight="400" fill="#26a69a" text-anchor="start" textLength="44.5" lengthAdjust="spacingAndGlyphs">89.295M</text>
<rect x="10" y="1281" width="2774" height="1" fill="#23262f"/>
<text x="99.1" y="1298.8" font-size="12.3" font-weight="400" fill="#ffffff" text-anchor="start" textLength="24.0" lengthAdjust="spacingAndGlyphs" stroke="#fff" stroke-width="0.35">Juill</text>
<text x="217.5" y="1298.8" font-size="12.3" font-weight="400" fill="#ffffff" text-anchor="start" textLength="25.5" lengthAdjust="spacingAndGlyphs" stroke="#fff" stroke-width="0.35">Août</text>
<text x="331.4" y="1298.8" font-size="12.3" font-weight="400" fill="#ffffff" text-anchor="start" textLength="25.0" lengthAdjust="spacingAndGlyphs" stroke="#fff" stroke-width="0.35">Sept</text>
<text x="447.9" y="1298.8" font-size="12.3" font-weight="400" fill="#ffffff" text-anchor="start" textLength="19.5" lengthAdjust="spacingAndGlyphs" stroke="#fff" stroke-width="0.35">Oct</text>
<text x="566.2" y="1298.8" font-size="12.3" font-weight="400" fill="#ffffff" text-anchor="start" textLength="21.0" lengthAdjust="spacingAndGlyphs" stroke="#fff" stroke-width="0.35">Nov</text>
<text x="674.5" y="1298.8" font-size="12.3" font-weight="400" fill="#ffffff" text-anchor="start" textLength="21.0" lengthAdjust="spacingAndGlyphs" stroke="#fff" stroke-width="0.35">Déc</text>
<text x="790.9" y="1298.8" font-size="12.3" font-weight="700" fill="#ffffff" text-anchor="start" textLength="26.4" lengthAdjust="spacingAndGlyphs">2021</text>
<text x="895.2" y="1298.8" font-size="12.3" font-weight="400" fill="#ffffff" text-anchor="start" textLength="23.5" lengthAdjust="spacingAndGlyphs" stroke="#fff" stroke-width="0.35">Févr</text>
<text x="997.6" y="1298.8" font-size="12.3" font-weight="400" fill="#ffffff" text-anchor="start" textLength="24.4" lengthAdjust="spacingAndGlyphs" stroke="#fff" stroke-width="0.35">Mars</text>
<text x="1125.3" y="1298.8" font-size="12.3" font-weight="400" fill="#ffffff" text-anchor="start" textLength="18.0" lengthAdjust="spacingAndGlyphs" stroke="#fff" stroke-width="0.35">Avr</text>
<text x="1238.8" y="1298.8" font-size="12.3" font-weight="400" fill="#ffffff" text-anchor="start" textLength="18.5" lengthAdjust="spacingAndGlyphs" stroke="#fff" stroke-width="0.35">Mai</text>
<text x="1344.8" y="1298.8" font-size="12.3" font-weight="400" fill="#ffffff" text-anchor="start" textLength="23.0" lengthAdjust="spacingAndGlyphs" stroke="#fff" stroke-width="0.35">Juin</text>
<text x="1463.4" y="1298.8" font-size="12.3" font-weight="400" fill="#ffffff" text-anchor="start" textLength="24.0" lengthAdjust="spacingAndGlyphs" stroke="#fff" stroke-width="0.35">Juill</text>
<text x="1576.3" y="1298.8" font-size="12.3" font-weight="400" fill="#ffffff" text-anchor="start" textLength="25.5" lengthAdjust="spacingAndGlyphs" stroke="#fff" stroke-width="0.35">Août</text>
<text x="1695.7" y="1298.8" font-size="12.3" font-weight="400" fill="#ffffff" text-anchor="start" textLength="25.0" lengthAdjust="spacingAndGlyphs" stroke="#fff" stroke-width="0.35">Sept</text>
<text x="1812.1" y="1298.8" font-size="12.3" font-weight="400" fill="#ffffff" text-anchor="start" textLength="19.5" lengthAdjust="spacingAndGlyphs" stroke="#fff" stroke-width="0.35">Oct</text>
<text x="1925.1" y="1298.8" font-size="12.3" font-weight="400" fill="#ffffff" text-anchor="start" textLength="21.0" lengthAdjust="spacingAndGlyphs" stroke="#fff" stroke-width="0.35">Nov</text>
<text x="2038.7" y="1298.8" font-size="12.3" font-weight="400" fill="#ffffff" text-anchor="start" textLength="21.0" lengthAdjust="spacingAndGlyphs" stroke="#fff" stroke-width="0.35">Déc</text>
<text x="2155.1" y="1298.8" font-size="12.3" font-weight="700" fill="#ffffff" text-anchor="start" textLength="26.4" lengthAdjust="spacingAndGlyphs">2022</text>
<text x="2264.9" y="1298.8" font-size="12.3" font-weight="400" fill="#ffffff" text-anchor="start" textLength="23.5" lengthAdjust="spacingAndGlyphs" stroke="#fff" stroke-width="0.35">Févr</text>
<text x="2367.3" y="1298.8" font-size="12.3" font-weight="400" fill="#ffffff" text-anchor="start" textLength="24.4" lengthAdjust="spacingAndGlyphs" stroke="#fff" stroke-width="0.35">Mars</text>
<text x="2495.0" y="1298.8" font-size="12.3" font-weight="400" fill="#ffffff" text-anchor="start" textLength="18.0" lengthAdjust="spacingAndGlyphs" stroke="#fff" stroke-width="0.35">Avr</text>
<text x="2603.0" y="1298.8" font-size="12.3" font-weight="400" fill="#ffffff" text-anchor="start" textLength="18.5" lengthAdjust="spacingAndGlyphs" stroke="#fff" stroke-width="0.35">Mai</text>
<path d="M187.73 1259.0 L196.33 1264.2 V1275.2 Q196.33 1277.15 194.33 1277.15 H181.13 Q179.13 1277.15 179.13 1275.2 V1264.2 Z" fill="#131722" stroke="#05070c" stroke-width="4" stroke-linejoin="round"/>
<path d="M187.73 1259.0 L196.33 1264.2 V1275.2 Q196.33 1277.15 194.33 1277.15 H181.13 Q179.13 1277.15 179.13 1275.2 V1264.2 Z" fill="#131722" stroke="#089981" stroke-width="2.1" stroke-linejoin="round"/>
<text x="184.43" y="1274.6" font-size="12.6" fill="#089981" textLength="6.4" lengthAdjust="spacingAndGlyphs" stroke="#089981" stroke-width="0.25">E</text>
<path d="M534.21 1259.0 L542.81 1264.2 V1275.2 Q542.81 1277.15 540.81 1277.15 H527.61 Q525.61 1277.15 525.61 1275.2 V1264.2 Z" fill="#131722" stroke="#05070c" stroke-width="4" stroke-linejoin="round"/>
<path d="M534.21 1259.0 L542.81 1264.2 V1275.2 Q542.81 1277.15 540.81 1277.15 H527.61 Q525.61 1277.15 525.61 1275.2 V1264.2 Z" fill="#131722" stroke="#089981" stroke-width="2.1" stroke-linejoin="round"/>
<text x="530.91" y="1274.6" font-size="12.6" fill="#089981" textLength="6.4" lengthAdjust="spacingAndGlyphs" stroke="#089981" stroke-width="0.25">E</text>
<path d="M1221.75 1259.0 L1230.35 1264.2 V1275.2 Q1230.35 1277.15 1228.35 1277.15 H1215.15 Q1213.15 1277.15 1213.15 1275.2 V1264.2 Z" fill="#131722" stroke="#05070c" stroke-width="4" stroke-linejoin="round"/>
<path d="M1221.75 1259.0 L1230.35 1264.2 V1275.2 Q1230.35 1277.15 1228.35 1277.15 H1215.15 Q1213.15 1277.15 1213.15 1275.2 V1264.2 Z" fill="#131722" stroke="#089981" stroke-width="2.1" stroke-linejoin="round"/>
<text x="1218.45" y="1274.6" font-size="12.6" fill="#089981" textLength="6.4" lengthAdjust="spacingAndGlyphs" stroke="#089981" stroke-width="0.25">E</text>
<path d="M1562.81 1259.0 L1571.41 1264.2 V1275.2 Q1571.41 1277.15 1569.41 1277.15 H1556.21 Q1554.21 1277.15 1554.21 1275.2 V1264.2 Z" fill="#131722" stroke="#05070c" stroke-width="4" stroke-linejoin="round"/>
<path d="M1562.81 1259.0 L1571.41 1264.2 V1275.2 Q1571.41 1277.15 1569.41 1277.15 H1556.21 Q1554.21 1277.15 1554.21 1275.2 V1264.2 Z" fill="#131722" stroke="#089981" stroke-width="2.1" stroke-linejoin="round"/>
<text x="1559.51" y="1274.6" font-size="12.6" fill="#089981" textLength="6.4" lengthAdjust="spacingAndGlyphs" stroke="#089981" stroke-width="0.25">E</text>
<path d="M1893.05 1259.0 L1901.65 1264.2 V1275.2 Q1901.65 1277.15 1899.65 1277.15 H1886.45 Q1884.45 1277.15 1884.45 1275.2 V1264.2 Z" fill="#131722" stroke="#05070c" stroke-width="4" stroke-linejoin="round"/>
<path d="M1893.05 1259.0 L1901.65 1264.2 V1275.2 Q1901.65 1277.15 1899.65 1277.15 H1886.45 Q1884.45 1277.15 1884.45 1275.2 V1264.2 Z" fill="#131722" stroke="#089981" stroke-width="2.1" stroke-linejoin="round"/>
<text x="1889.75" y="1274.6" font-size="12.6" fill="#089981" textLength="6.4" lengthAdjust="spacingAndGlyphs" stroke="#089981" stroke-width="0.25">E</text>
<path d="M2255.77 1259.0 L2264.37 1264.2 V1275.2 Q2264.37 1277.15 2262.37 1277.15 H2249.17 Q2247.17 1277.15 2247.17 1275.2 V1264.2 Z" fill="#131722" stroke="#05070c" stroke-width="4" stroke-linejoin="round"/>
<path d="M2255.77 1259.0 L2264.37 1264.2 V1275.2 Q2264.37 1277.15 2262.37 1277.15 H2249.17 Q2247.17 1277.15 2247.17 1275.2 V1264.2 Z" fill="#131722" stroke="#089981" stroke-width="2.1" stroke-linejoin="round"/>
<text x="2252.47" y="1274.6" font-size="12.6" fill="#089981" textLength="6.4" lengthAdjust="spacingAndGlyphs" stroke="#089981" stroke-width="0.25">E</text>
<path d="M2569.76 1259.0 L2578.36 1264.2 V1275.2 Q2578.36 1277.15 2576.36 1277.15 H2563.16 Q2561.16 1277.15 2561.16 1275.2 V1264.2 Z" fill="#131722" stroke="#05070c" stroke-width="4" stroke-linejoin="round"/>
<path d="M2569.76 1259.0 L2578.36 1264.2 V1275.2 Q2578.36 1277.15 2576.36 1277.15 H2563.16 Q2561.16 1277.15 2561.16 1275.2 V1264.2 Z" fill="#131722" stroke="#089981" stroke-width="2.1" stroke-linejoin="round"/>
<text x="2566.46" y="1274.6" font-size="12.6" fill="#089981" textLength="6.4" lengthAdjust="spacingAndGlyphs" stroke="#089981" stroke-width="0.25">E</text>
<path d="M891.51 1276.9 L900.11 1271.9 V1260.6 Q900.11 1258.65 898.11 1258.65 H884.91 Q882.91 1258.65 882.91 1260.6 V1271.9 Z" fill="#131722" stroke="#05070c" stroke-width="4" stroke-linejoin="round"/>
<path d="M891.51 1276.9 L900.11 1271.9 V1260.6 Q900.11 1258.65 898.11 1258.65 H884.91 Q882.91 1258.65 882.91 1260.6 V1271.9 Z" fill="#131722" stroke="#ea3549" stroke-width="2.1" stroke-linejoin="round"/>
<text x="888.21" y="1273.0" font-size="12.6" fill="#ea3549" textLength="6.4" lengthAdjust="spacingAndGlyphs" stroke="#ea3549" stroke-width="0.25">E</text>
<circle cx="339.4" cy="1268.3" r="11.2" fill="#05070c"/>
<circle cx="339.4" cy="1268.3" r="9.25" fill="#131722" stroke="#ff9800" stroke-width="2.1"/>
<text x="336.42" y="1272.9" font-size="12.6" fill="#ff9800" textLength="6.0" lengthAdjust="spacingAndGlyphs" stroke="#ff9800" stroke-width="0.25">S</text>
<g fill="#d1d4dc">
<path d="M10 1321 H18.3 V1331 H13.7 V1325 H10 Z"/>
<circle cx="21" cy="1323" r="1.85"/>
<path d="M24.6 1321 H30 L25.8 1331 H20.4 Z"/>
</g>
<text x="33.0" y="1331.0" font-size="13.3" font-weight="400" fill="#d1d4dc" text-anchor="start" textLength="70.5" lengthAdjust="spacingAndGlyphs">TradingView</text>
</svg></body></html>
